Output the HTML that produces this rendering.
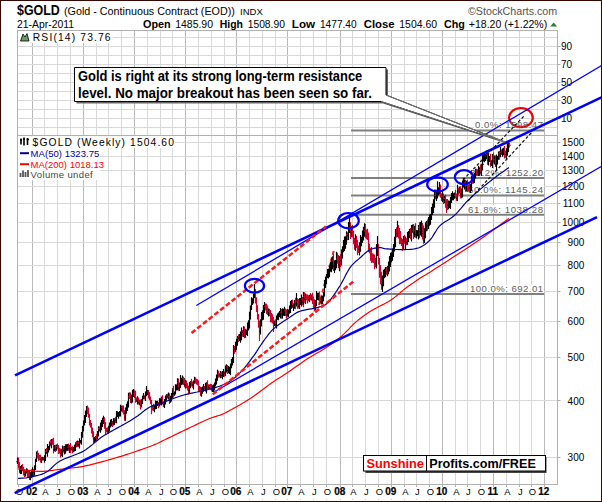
<!DOCTYPE html><html><head><meta charset="utf-8"><style>html,body{margin:0;padding:0;background:#fff;}svg{display:block;font-family:"Liberation Sans",sans-serif;}</style></head><body><svg width="602" height="502" viewBox="0 0 602 502"><rect x="0" y="0" width="602" height="502" fill="#fff"/><line x1="32.5" y1="30.5" x2="32.5" y2="484.5" stroke="#b9b9b9" stroke-width="1"/><line x1="44.5" y1="30.5" x2="44.5" y2="484.5" stroke="#d9d9d9" stroke-width="1"/><line x1="57.5" y1="30.5" x2="57.5" y2="484.5" stroke="#d9d9d9" stroke-width="1"/><line x1="70.5" y1="30.5" x2="70.5" y2="484.5" stroke="#d9d9d9" stroke-width="1"/><line x1="83.5" y1="30.5" x2="83.5" y2="484.5" stroke="#b9b9b9" stroke-width="1"/><line x1="96.5" y1="30.5" x2="96.5" y2="484.5" stroke="#d9d9d9" stroke-width="1"/><line x1="108.5" y1="30.5" x2="108.5" y2="484.5" stroke="#d9d9d9" stroke-width="1"/><line x1="121.5" y1="30.5" x2="121.5" y2="484.5" stroke="#d9d9d9" stroke-width="1"/><line x1="134.5" y1="30.5" x2="134.5" y2="484.5" stroke="#b9b9b9" stroke-width="1"/><line x1="147.5" y1="30.5" x2="147.5" y2="484.5" stroke="#d9d9d9" stroke-width="1"/><line x1="160.5" y1="30.5" x2="160.5" y2="484.5" stroke="#d9d9d9" stroke-width="1"/><line x1="172.5" y1="30.5" x2="172.5" y2="484.5" stroke="#d9d9d9" stroke-width="1"/><line x1="185.5" y1="30.5" x2="185.5" y2="484.5" stroke="#b9b9b9" stroke-width="1"/><line x1="198.5" y1="30.5" x2="198.5" y2="484.5" stroke="#d9d9d9" stroke-width="1"/><line x1="211.5" y1="30.5" x2="211.5" y2="484.5" stroke="#d9d9d9" stroke-width="1"/><line x1="224.5" y1="30.5" x2="224.5" y2="484.5" stroke="#d9d9d9" stroke-width="1"/><line x1="236.5" y1="30.5" x2="236.5" y2="484.5" stroke="#b9b9b9" stroke-width="1"/><line x1="249.5" y1="30.5" x2="249.5" y2="484.5" stroke="#d9d9d9" stroke-width="1"/><line x1="262.5" y1="30.5" x2="262.5" y2="484.5" stroke="#d9d9d9" stroke-width="1"/><line x1="275.5" y1="30.5" x2="275.5" y2="484.5" stroke="#d9d9d9" stroke-width="1"/><line x1="287.5" y1="30.5" x2="287.5" y2="484.5" stroke="#b9b9b9" stroke-width="1"/><line x1="300.5" y1="30.5" x2="300.5" y2="484.5" stroke="#d9d9d9" stroke-width="1"/><line x1="313.5" y1="30.5" x2="313.5" y2="484.5" stroke="#d9d9d9" stroke-width="1"/><line x1="326.5" y1="30.5" x2="326.5" y2="484.5" stroke="#d9d9d9" stroke-width="1"/><line x1="340.5" y1="30.5" x2="340.5" y2="484.5" stroke="#b9b9b9" stroke-width="1"/><line x1="352.5" y1="30.5" x2="352.5" y2="484.5" stroke="#d9d9d9" stroke-width="1"/><line x1="365.5" y1="30.5" x2="365.5" y2="484.5" stroke="#d9d9d9" stroke-width="1"/><line x1="378.5" y1="30.5" x2="378.5" y2="484.5" stroke="#d9d9d9" stroke-width="1"/><line x1="391.5" y1="30.5" x2="391.5" y2="484.5" stroke="#b9b9b9" stroke-width="1"/><line x1="404.5" y1="30.5" x2="404.5" y2="484.5" stroke="#d9d9d9" stroke-width="1"/><line x1="416.5" y1="30.5" x2="416.5" y2="484.5" stroke="#d9d9d9" stroke-width="1"/><line x1="429.5" y1="30.5" x2="429.5" y2="484.5" stroke="#d9d9d9" stroke-width="1"/><line x1="442.5" y1="30.5" x2="442.5" y2="484.5" stroke="#b9b9b9" stroke-width="1"/><line x1="455.5" y1="30.5" x2="455.5" y2="484.5" stroke="#d9d9d9" stroke-width="1"/><line x1="467.5" y1="30.5" x2="467.5" y2="484.5" stroke="#d9d9d9" stroke-width="1"/><line x1="480.5" y1="30.5" x2="480.5" y2="484.5" stroke="#d9d9d9" stroke-width="1"/><line x1="493.5" y1="30.5" x2="493.5" y2="484.5" stroke="#b9b9b9" stroke-width="1"/><line x1="506.5" y1="30.5" x2="506.5" y2="484.5" stroke="#d9d9d9" stroke-width="1"/><line x1="519.5" y1="30.5" x2="519.5" y2="484.5" stroke="#d9d9d9" stroke-width="1"/><line x1="531.5" y1="30.5" x2="531.5" y2="484.5" stroke="#d9d9d9" stroke-width="1"/><line x1="544.5" y1="30.5" x2="544.5" y2="484.5" stroke="#b9b9b9" stroke-width="1"/><line x1="17.5" y1="127.5" x2="557.5" y2="127.5" stroke="#d9d9d9" stroke-width="1"/><line x1="17.5" y1="118.5" x2="557.5" y2="118.5" stroke="#d9d9d9" stroke-width="1"/><line x1="17.5" y1="109.5" x2="557.5" y2="109.5" stroke="#d9d9d9" stroke-width="1"/><line x1="17.5" y1="100.5" x2="557.5" y2="100.5" stroke="#d9d9d9" stroke-width="1"/><line x1="17.5" y1="91.5" x2="557.5" y2="91.5" stroke="#d9d9d9" stroke-width="1"/><line x1="17.5" y1="82.5" x2="557.5" y2="82.5" stroke="#d9d9d9" stroke-width="1"/><line x1="17.5" y1="73.5" x2="557.5" y2="73.5" stroke="#d9d9d9" stroke-width="1"/><line x1="17.5" y1="64.5" x2="557.5" y2="64.5" stroke="#d9d9d9" stroke-width="1"/><line x1="17.5" y1="55.5" x2="557.5" y2="55.5" stroke="#d9d9d9" stroke-width="1"/><line x1="17.5" y1="46.5" x2="557.5" y2="46.5" stroke="#d9d9d9" stroke-width="1"/><line x1="17.5" y1="37.5" x2="557.5" y2="37.5" stroke="#d9d9d9" stroke-width="1"/><line x1="17.5" y1="457.5" x2="557.5" y2="457.5" stroke="#d9d9d9" stroke-width="1"/><line x1="17.5" y1="400.5" x2="557.5" y2="400.5" stroke="#d9d9d9" stroke-width="1"/><line x1="17.5" y1="357.5" x2="557.5" y2="357.5" stroke="#d9d9d9" stroke-width="1"/><line x1="17.5" y1="321.5" x2="557.5" y2="321.5" stroke="#d9d9d9" stroke-width="1"/><line x1="17.5" y1="291.5" x2="557.5" y2="291.5" stroke="#d9d9d9" stroke-width="1"/><line x1="17.5" y1="265.5" x2="557.5" y2="265.5" stroke="#d9d9d9" stroke-width="1"/><line x1="17.5" y1="242.5" x2="557.5" y2="242.5" stroke="#d9d9d9" stroke-width="1"/><line x1="17.5" y1="222.5" x2="557.5" y2="222.5" stroke="#d9d9d9" stroke-width="1"/><line x1="17.5" y1="203.5" x2="557.5" y2="203.5" stroke="#d9d9d9" stroke-width="1"/><line x1="17.5" y1="186.5" x2="557.5" y2="186.5" stroke="#d9d9d9" stroke-width="1"/><line x1="17.5" y1="170.5" x2="557.5" y2="170.5" stroke="#d9d9d9" stroke-width="1"/><line x1="17.5" y1="156.5" x2="557.5" y2="156.5" stroke="#d9d9d9" stroke-width="1"/><line x1="17.5" y1="142.5" x2="557.5" y2="142.5" stroke="#d9d9d9" stroke-width="1"/><rect x="17.5" y="30.5" width="540.0" height="454.0" fill="none" stroke="#b0b0b0" stroke-width="1"/><line x1="17.5" y1="135.5" x2="557.5" y2="135.5" stroke="#b0b0b0" stroke-width="1"/><line x1="557.5" y1="46.5" x2="560.5" y2="46.5" stroke="#b0b0b0"/><text x="572" y="50.0" font-size="10" fill="#000" text-anchor="end">90</text><line x1="557.5" y1="64.5" x2="560.5" y2="64.5" stroke="#b0b0b0"/><text x="572" y="68.0" font-size="10" fill="#000" text-anchor="end">70</text><line x1="557.5" y1="82.5" x2="560.5" y2="82.5" stroke="#b0b0b0"/><text x="572" y="86.0" font-size="10" fill="#000" text-anchor="end">50</text><line x1="557.5" y1="100.5" x2="560.5" y2="100.5" stroke="#b0b0b0"/><text x="572" y="104.0" font-size="10" fill="#000" text-anchor="end">30</text><line x1="557.5" y1="118.5" x2="560.5" y2="118.5" stroke="#b0b0b0"/><text x="572" y="122.0" font-size="10" fill="#000" text-anchor="end">10</text><line x1="557.5" y1="457.5" x2="560.5" y2="457.5" stroke="#b0b0b0"/><text x="584.3" y="460.6" font-size="10" fill="#000" text-anchor="end">300</text><line x1="557.5" y1="400.5" x2="560.5" y2="400.5" stroke="#b0b0b0"/><text x="584.3" y="404.5" font-size="10" fill="#000" text-anchor="end">400</text><line x1="557.5" y1="357.5" x2="560.5" y2="357.5" stroke="#b0b0b0"/><text x="584.3" y="360.9" font-size="10" fill="#000" text-anchor="end">500</text><line x1="557.5" y1="321.5" x2="560.5" y2="321.5" stroke="#b0b0b0"/><text x="584.3" y="325.3" font-size="10" fill="#000" text-anchor="end">600</text><line x1="557.5" y1="291.5" x2="560.5" y2="291.5" stroke="#b0b0b0"/><text x="584.3" y="295.2" font-size="10" fill="#000" text-anchor="end">700</text><line x1="557.5" y1="265.5" x2="560.5" y2="265.5" stroke="#b0b0b0"/><text x="584.3" y="269.1" font-size="10" fill="#000" text-anchor="end">800</text><line x1="557.5" y1="242.5" x2="560.5" y2="242.5" stroke="#b0b0b0"/><text x="584.3" y="246.1" font-size="10" fill="#000" text-anchor="end">900</text><line x1="557.5" y1="222.5" x2="560.5" y2="222.5" stroke="#b0b0b0"/><text x="584.3" y="225.5" font-size="10" fill="#000" text-anchor="end">1000</text><line x1="557.5" y1="203.5" x2="560.5" y2="203.5" stroke="#b0b0b0"/><text x="584.3" y="206.9" font-size="10" fill="#000" text-anchor="end">1100</text><line x1="557.5" y1="186.5" x2="560.5" y2="186.5" stroke="#b0b0b0"/><text x="584.3" y="189.9" font-size="10" fill="#000" text-anchor="end">1200</text><line x1="557.5" y1="170.5" x2="560.5" y2="170.5" stroke="#b0b0b0"/><text x="584.3" y="174.3" font-size="10" fill="#000" text-anchor="end">1300</text><line x1="557.5" y1="156.5" x2="560.5" y2="156.5" stroke="#b0b0b0"/><text x="584.3" y="159.8" font-size="10" fill="#000" text-anchor="end">1400</text><line x1="557.5" y1="142.5" x2="560.5" y2="142.5" stroke="#b0b0b0"/><text x="584.3" y="146.3" font-size="10" fill="#000" text-anchor="end">1500</text><line x1="18.5" y1="484.5" x2="18.5" y2="487.0" stroke="#b0b0b0"/><rect x="18" y="499" width="1" height="1" fill="#c8c8c8"/><text x="19.5" y="495.4" font-size="9.4" text-anchor="middle">O</text><line x1="32.5" y1="484.5" x2="32.5" y2="487.0" stroke="#b0b0b0"/><rect x="32" y="499" width="1" height="1" fill="#c8c8c8"/><text x="31.7" y="495.3" font-size="10" font-weight="bold" stroke="#000" stroke-width="0.2" text-anchor="middle">02</text><line x1="44.5" y1="484.5" x2="44.5" y2="487.0" stroke="#b0b0b0"/><rect x="44" y="499" width="1" height="1" fill="#c8c8c8"/><text x="45.3" y="495.4" font-size="9.4" text-anchor="middle">A</text><line x1="57.5" y1="484.5" x2="57.5" y2="487.0" stroke="#b0b0b0"/><rect x="57" y="499" width="1" height="1" fill="#c8c8c8"/><text x="58.3" y="495.4" font-size="9.4" text-anchor="middle">J</text><line x1="70.5" y1="484.5" x2="70.5" y2="487.0" stroke="#b0b0b0"/><rect x="70" y="499" width="1" height="1" fill="#c8c8c8"/><text x="71.3" y="495.4" font-size="9.4" text-anchor="middle">O</text><line x1="83.5" y1="484.5" x2="83.5" y2="487.0" stroke="#b0b0b0"/><rect x="83" y="499" width="1" height="1" fill="#c8c8c8"/><text x="82.7" y="495.3" font-size="10" font-weight="bold" stroke="#000" stroke-width="0.2" text-anchor="middle">03</text><line x1="96.5" y1="484.5" x2="96.5" y2="487.0" stroke="#b0b0b0"/><rect x="96" y="499" width="1" height="1" fill="#c8c8c8"/><text x="97.3" y="495.4" font-size="9.4" text-anchor="middle">A</text><line x1="108.5" y1="484.5" x2="108.5" y2="487.0" stroke="#b0b0b0"/><rect x="108" y="499" width="1" height="1" fill="#c8c8c8"/><text x="109.3" y="495.4" font-size="9.4" text-anchor="middle">J</text><line x1="121.5" y1="484.5" x2="121.5" y2="487.0" stroke="#b0b0b0"/><rect x="121" y="499" width="1" height="1" fill="#c8c8c8"/><text x="122.3" y="495.4" font-size="9.4" text-anchor="middle">O</text><line x1="134.5" y1="484.5" x2="134.5" y2="487.0" stroke="#b0b0b0"/><rect x="134" y="499" width="1" height="1" fill="#c8c8c8"/><text x="133.7" y="495.3" font-size="10" font-weight="bold" stroke="#000" stroke-width="0.2" text-anchor="middle">04</text><line x1="147.5" y1="484.5" x2="147.5" y2="487.0" stroke="#b0b0b0"/><rect x="147" y="499" width="1" height="1" fill="#c8c8c8"/><text x="148.3" y="495.4" font-size="9.4" text-anchor="middle">A</text><line x1="160.5" y1="484.5" x2="160.5" y2="487.0" stroke="#b0b0b0"/><rect x="160" y="499" width="1" height="1" fill="#c8c8c8"/><text x="161.3" y="495.4" font-size="9.4" text-anchor="middle">J</text><line x1="172.5" y1="484.5" x2="172.5" y2="487.0" stroke="#b0b0b0"/><rect x="172" y="499" width="1" height="1" fill="#c8c8c8"/><text x="173.3" y="495.4" font-size="9.4" text-anchor="middle">O</text><line x1="185.5" y1="484.5" x2="185.5" y2="487.0" stroke="#b0b0b0"/><rect x="185" y="499" width="1" height="1" fill="#c8c8c8"/><text x="184.7" y="495.3" font-size="10" font-weight="bold" stroke="#000" stroke-width="0.2" text-anchor="middle">05</text><line x1="198.5" y1="484.5" x2="198.5" y2="487.0" stroke="#b0b0b0"/><rect x="198" y="499" width="1" height="1" fill="#c8c8c8"/><text x="199.3" y="495.4" font-size="9.4" text-anchor="middle">A</text><line x1="211.5" y1="484.5" x2="211.5" y2="487.0" stroke="#b0b0b0"/><rect x="211" y="499" width="1" height="1" fill="#c8c8c8"/><text x="212.3" y="495.4" font-size="9.4" text-anchor="middle">J</text><line x1="224.5" y1="484.5" x2="224.5" y2="487.0" stroke="#b0b0b0"/><rect x="224" y="499" width="1" height="1" fill="#c8c8c8"/><text x="225.3" y="495.4" font-size="9.4" text-anchor="middle">O</text><line x1="236.5" y1="484.5" x2="236.5" y2="487.0" stroke="#b0b0b0"/><rect x="236" y="499" width="1" height="1" fill="#c8c8c8"/><text x="235.7" y="495.3" font-size="10" font-weight="bold" stroke="#000" stroke-width="0.2" text-anchor="middle">06</text><line x1="249.5" y1="484.5" x2="249.5" y2="487.0" stroke="#b0b0b0"/><rect x="249" y="499" width="1" height="1" fill="#c8c8c8"/><text x="250.3" y="495.4" font-size="9.4" text-anchor="middle">A</text><line x1="262.5" y1="484.5" x2="262.5" y2="487.0" stroke="#b0b0b0"/><rect x="262" y="499" width="1" height="1" fill="#c8c8c8"/><text x="263.3" y="495.4" font-size="9.4" text-anchor="middle">J</text><line x1="275.5" y1="484.5" x2="275.5" y2="487.0" stroke="#b0b0b0"/><rect x="275" y="499" width="1" height="1" fill="#c8c8c8"/><text x="276.3" y="495.4" font-size="9.4" text-anchor="middle">O</text><line x1="287.5" y1="484.5" x2="287.5" y2="487.0" stroke="#b0b0b0"/><rect x="287" y="499" width="1" height="1" fill="#c8c8c8"/><text x="286.7" y="495.3" font-size="10" font-weight="bold" stroke="#000" stroke-width="0.2" text-anchor="middle">07</text><line x1="300.5" y1="484.5" x2="300.5" y2="487.0" stroke="#b0b0b0"/><rect x="300" y="499" width="1" height="1" fill="#c8c8c8"/><text x="301.3" y="495.4" font-size="9.4" text-anchor="middle">A</text><line x1="313.5" y1="484.5" x2="313.5" y2="487.0" stroke="#b0b0b0"/><rect x="313" y="499" width="1" height="1" fill="#c8c8c8"/><text x="314.3" y="495.4" font-size="9.4" text-anchor="middle">J</text><line x1="326.5" y1="484.5" x2="326.5" y2="487.0" stroke="#b0b0b0"/><rect x="326" y="499" width="1" height="1" fill="#c8c8c8"/><text x="327.3" y="495.4" font-size="9.4" text-anchor="middle">O</text><line x1="340.5" y1="484.5" x2="340.5" y2="487.0" stroke="#b0b0b0"/><rect x="340" y="499" width="1" height="1" fill="#c8c8c8"/><text x="339.7" y="495.3" font-size="10" font-weight="bold" stroke="#000" stroke-width="0.2" text-anchor="middle">08</text><line x1="352.5" y1="484.5" x2="352.5" y2="487.0" stroke="#b0b0b0"/><rect x="352" y="499" width="1" height="1" fill="#c8c8c8"/><text x="353.3" y="495.4" font-size="9.4" text-anchor="middle">A</text><line x1="365.5" y1="484.5" x2="365.5" y2="487.0" stroke="#b0b0b0"/><rect x="365" y="499" width="1" height="1" fill="#c8c8c8"/><text x="366.3" y="495.4" font-size="9.4" text-anchor="middle">J</text><line x1="378.5" y1="484.5" x2="378.5" y2="487.0" stroke="#b0b0b0"/><rect x="378" y="499" width="1" height="1" fill="#c8c8c8"/><text x="379.3" y="495.4" font-size="9.4" text-anchor="middle">O</text><line x1="391.5" y1="484.5" x2="391.5" y2="487.0" stroke="#b0b0b0"/><rect x="391" y="499" width="1" height="1" fill="#c8c8c8"/><text x="390.7" y="495.3" font-size="10" font-weight="bold" stroke="#000" stroke-width="0.2" text-anchor="middle">09</text><line x1="404.5" y1="484.5" x2="404.5" y2="487.0" stroke="#b0b0b0"/><rect x="404" y="499" width="1" height="1" fill="#c8c8c8"/><text x="405.3" y="495.4" font-size="9.4" text-anchor="middle">A</text><line x1="416.5" y1="484.5" x2="416.5" y2="487.0" stroke="#b0b0b0"/><rect x="416" y="499" width="1" height="1" fill="#c8c8c8"/><text x="417.3" y="495.4" font-size="9.4" text-anchor="middle">J</text><line x1="429.5" y1="484.5" x2="429.5" y2="487.0" stroke="#b0b0b0"/><rect x="429" y="499" width="1" height="1" fill="#c8c8c8"/><text x="430.3" y="495.4" font-size="9.4" text-anchor="middle">O</text><line x1="442.5" y1="484.5" x2="442.5" y2="487.0" stroke="#b0b0b0"/><rect x="442" y="499" width="1" height="1" fill="#c8c8c8"/><text x="441.7" y="495.3" font-size="10" font-weight="bold" stroke="#000" stroke-width="0.2" text-anchor="middle">10</text><line x1="455.5" y1="484.5" x2="455.5" y2="487.0" stroke="#b0b0b0"/><rect x="455" y="499" width="1" height="1" fill="#c8c8c8"/><text x="456.3" y="495.4" font-size="9.4" text-anchor="middle">A</text><line x1="467.5" y1="484.5" x2="467.5" y2="487.0" stroke="#b0b0b0"/><rect x="467" y="499" width="1" height="1" fill="#c8c8c8"/><text x="468.3" y="495.4" font-size="9.4" text-anchor="middle">J</text><line x1="480.5" y1="484.5" x2="480.5" y2="487.0" stroke="#b0b0b0"/><rect x="480" y="499" width="1" height="1" fill="#c8c8c8"/><text x="481.3" y="495.4" font-size="9.4" text-anchor="middle">O</text><line x1="493.5" y1="484.5" x2="493.5" y2="487.0" stroke="#b0b0b0"/><rect x="493" y="499" width="1" height="1" fill="#c8c8c8"/><text x="492.7" y="495.3" font-size="10" font-weight="bold" stroke="#000" stroke-width="0.2" text-anchor="middle">11</text><line x1="506.5" y1="484.5" x2="506.5" y2="487.0" stroke="#b0b0b0"/><rect x="506" y="499" width="1" height="1" fill="#c8c8c8"/><text x="507.3" y="495.4" font-size="9.4" text-anchor="middle">A</text><line x1="519.5" y1="484.5" x2="519.5" y2="487.0" stroke="#b0b0b0"/><rect x="519" y="499" width="1" height="1" fill="#c8c8c8"/><text x="520.3" y="495.4" font-size="9.4" text-anchor="middle">J</text><line x1="531.5" y1="484.5" x2="531.5" y2="487.0" stroke="#b0b0b0"/><rect x="531" y="499" width="1" height="1" fill="#c8c8c8"/><text x="532.3" y="495.4" font-size="9.4" text-anchor="middle">O</text><line x1="544.5" y1="484.5" x2="544.5" y2="487.0" stroke="#b0b0b0"/><rect x="544" y="499" width="1" height="1" fill="#c8c8c8"/><text x="543.7" y="495.3" font-size="10" font-weight="bold" stroke="#000" stroke-width="0.2" text-anchor="middle">12</text><line x1="351" y1="130.4" x2="544" y2="130.4" stroke="#808080" stroke-width="2"/><line x1="351" y1="178.1" x2="544" y2="178.1" stroke="#808080" stroke-width="2"/><line x1="351" y1="195.5" x2="544" y2="195.5" stroke="#808080" stroke-width="2"/><line x1="351" y1="214.7" x2="544" y2="214.7" stroke="#808080" stroke-width="2"/><line x1="351" y1="293.9" x2="544" y2="293.9" stroke="#808080" stroke-width="2"/><rect x="474" y="120.9" width="34" height="8" fill="#fff"/><rect x="469" y="168.6" width="75" height="8" fill="#fff"/><rect x="467" y="186.0" width="77" height="8" fill="#fff"/><rect x="467" y="205.2" width="77" height="8" fill="#fff"/><rect x="469" y="284.4" width="75" height="8" fill="#fff"/><ellipse cx="520.9" cy="117.6" rx="11.9" ry="9.6" fill="none" stroke="#ee0000" stroke-width="2.1"/><text x="475" y="128.2" font-size="9.6" fill="#5e5e5e" textLength="68" lengthAdjust="spacing">0.0%: 1598.47</text><text x="470" y="175.9" font-size="9.6" fill="#5e5e5e" textLength="73" lengthAdjust="spacing">38.2%: 1252.20</text><text x="468" y="193.3" font-size="9.6" fill="#5e5e5e" textLength="75" lengthAdjust="spacing">50.0%: 1145.24</text><text x="468" y="212.5" font-size="9.6" fill="#5e5e5e" textLength="75" lengthAdjust="spacing">61.8%: 1038.28</text><text x="470" y="291.7" font-size="9.6" fill="#5e5e5e" textLength="73" lengthAdjust="spacing">100.0%: 692.01</text><line x1="319" y1="305" x2="334" y2="250" stroke="#ff1a1a" stroke-width="2" stroke-dasharray="4,2.5"/><path d="M17.5 457.4V464.1M16.3 461.7h1.2M17.5 460.7h1.2" stroke="#000" stroke-width="1.15"/><path d="M18.5 457.4V468.3M17.3 460.7h1.2M18.5 465.2h1.2" stroke="#d4002a" stroke-width="1.15"/><path d="M19.5 462.3V473.2M18.3 465.2h1.2M19.5 470.7h1.2" stroke="#d4002a" stroke-width="1.15"/><path d="M20.5 465.9V474.0M19.3 470.7h1.2M20.5 470.3h1.2" stroke="#000" stroke-width="1.15"/><path d="M21.5 464.9V473.9M20.3 470.3h1.2M21.5 468.4h1.2" stroke="#000" stroke-width="1.15"/><path d="M22.5 464.1V471.2M21.3 468.4h1.2M22.5 469.9h1.2" stroke="#d4002a" stroke-width="1.15"/><path d="M23.5 466.7V475.5M22.3 469.9h1.2M23.5 471.9h1.2" stroke="#d4002a" stroke-width="1.15"/><path d="M24.5 469.8V477.0M23.3 471.9h1.2M24.5 474.5h1.2" stroke="#d4002a" stroke-width="1.15"/><path d="M25.5 470.5V476.4M24.3 474.5h1.2M25.5 472.0h1.2" stroke="#000" stroke-width="1.15"/><path d="M26.5 468.3V473.6M25.3 472.0h1.2M26.5 470.7h1.2" stroke="#000" stroke-width="1.15"/><path d="M27.5 468.7V478.1M26.3 470.7h1.2M27.5 474.0h1.2" stroke="#d4002a" stroke-width="1.15"/><path d="M28.5 471.0V477.0M27.3 474.0h1.2M28.5 475.0h1.2" stroke="#d4002a" stroke-width="1.15"/><path d="M29.5 470.7V480.1M28.3 475.0h1.2M29.5 477.0h1.2" stroke="#d4002a" stroke-width="1.15"/><path d="M30.5 471.9V480.3M29.3 477.0h1.2M30.5 476.2h1.2" stroke="#000" stroke-width="1.15"/><path d="M31.5 469.5V477.8M30.3 476.2h1.2M31.5 473.3h1.2" stroke="#000" stroke-width="1.15"/><path d="M32.5 467.2V476.9M31.3 473.3h1.2M32.5 470.4h1.2" stroke="#000" stroke-width="1.15"/><path d="M33.5 468.9V477.1M32.3 470.4h1.2M33.5 472.9h1.2" stroke="#d4002a" stroke-width="1.15"/><path d="M34.5 465.3V475.7M33.3 472.9h1.2M34.5 467.1h1.2" stroke="#000" stroke-width="1.15"/><path d="M35.5 458.8V469.9M34.3 467.1h1.2M35.5 460.6h1.2" stroke="#000" stroke-width="1.15"/><path d="M36.5 451.5V462.1M35.3 460.6h1.2M36.5 454.7h1.2" stroke="#000" stroke-width="1.15"/><path d="M37.5 450.4V458.4M36.3 454.7h1.2M37.5 455.8h1.2" stroke="#d4002a" stroke-width="1.15"/><path d="M38.5 452.8V460.7M37.3 455.8h1.2M38.5 457.5h1.2" stroke="#d4002a" stroke-width="1.15"/><path d="M39.5 455.1V460.3M38.3 457.5h1.2M39.5 458.1h1.2" stroke="#d4002a" stroke-width="1.15"/><path d="M40.5 454.8V462.4M39.3 458.1h1.2M40.5 459.4h1.2" stroke="#d4002a" stroke-width="1.15"/><path d="M41.5 456.9V462.9M40.3 459.4h1.2M41.5 459.0h1.2" stroke="#000" stroke-width="1.15"/><path d="M42.5 456.8V460.4M41.3 459.0h1.2M42.5 459.0h1.2" stroke="#000" stroke-width="1.15"/><path d="M43.5 456.9V460.6M42.3 459.0h1.2M43.5 459.1h1.2" stroke="#d4002a" stroke-width="1.15"/><path d="M44.5 455.2V462.7M43.3 459.1h1.2M44.5 457.0h1.2" stroke="#000" stroke-width="1.15"/><path d="M45.5 449.1V461.1M44.3 457.0h1.2M45.5 451.6h1.2" stroke="#000" stroke-width="1.15"/><path d="M46.5 448.0V454.0M45.3 451.6h1.2M46.5 452.5h1.2" stroke="#d4002a" stroke-width="1.15"/><path d="M47.5 444.0V456.7M46.3 452.5h1.2M47.5 448.3h1.2" stroke="#000" stroke-width="1.15"/><path d="M48.5 446.0V452.4M47.3 448.3h1.2M48.5 447.6h1.2" stroke="#000" stroke-width="1.15"/><path d="M49.5 441.4V450.3M48.3 447.6h1.2M49.5 444.1h1.2" stroke="#000" stroke-width="1.15"/><path d="M50.5 439.8V446.2M49.3 444.1h1.2M50.5 444.1h1.2" stroke="#d4002a" stroke-width="1.15"/><path d="M51.5 439.1V448.3M50.3 444.1h1.2M51.5 442.0h1.2" stroke="#000" stroke-width="1.15"/><path d="M52.5 438.8V444.8M51.3 442.0h1.2M52.5 442.0h1.2" stroke="#d4002a" stroke-width="1.15"/><path d="M53.5 437.7V453.4M52.3 442.0h1.2M53.5 449.6h1.2" stroke="#d4002a" stroke-width="1.15"/><path d="M54.5 444.9V451.2M53.3 449.6h1.2M54.5 448.0h1.2" stroke="#000" stroke-width="1.15"/><path d="M55.5 444.8V452.0M54.3 448.0h1.2M55.5 449.3h1.2" stroke="#d4002a" stroke-width="1.15"/><path d="M56.5 444.6V450.8M55.3 449.3h1.2M56.5 446.5h1.2" stroke="#000" stroke-width="1.15"/><path d="M57.5 443.6V449.3M56.3 446.5h1.2M57.5 447.6h1.2" stroke="#d4002a" stroke-width="1.15"/><path d="M58.5 445.0V454.0M57.3 447.6h1.2M58.5 450.6h1.2" stroke="#d4002a" stroke-width="1.15"/><path d="M59.5 447.9V453.6M58.3 450.6h1.2M59.5 451.5h1.2" stroke="#d4002a" stroke-width="1.15"/><path d="M60.5 448.4V457.6M59.3 451.5h1.2M60.5 453.4h1.2" stroke="#d4002a" stroke-width="1.15"/><path d="M61.5 449.2V456.3M60.3 453.4h1.2M61.5 452.9h1.2" stroke="#000" stroke-width="1.15"/><path d="M62.5 445.4V457.1M61.3 452.9h1.2M62.5 449.7h1.2" stroke="#000" stroke-width="1.15"/><path d="M63.5 446.2V452.4M62.3 449.7h1.2M63.5 450.4h1.2" stroke="#d4002a" stroke-width="1.15"/><path d="M64.5 446.1V454.5M63.3 450.4h1.2M64.5 447.8h1.2" stroke="#000" stroke-width="1.15"/><path d="M65.5 444.1V454.0M64.3 447.8h1.2M65.5 450.8h1.2" stroke="#d4002a" stroke-width="1.15"/><path d="M65.5 445.2V452.9M64.3 450.8h1.2M65.5 447.6h1.2" stroke="#000" stroke-width="1.15"/><path d="M66.5 444.2V450.7M65.3 447.6h1.2M66.5 447.6h1.2" stroke="#000" stroke-width="1.15"/><path d="M67.5 444.0V450.8M66.3 447.6h1.2M67.5 447.2h1.2" stroke="#000" stroke-width="1.15"/><path d="M68.5 443.5V450.7M67.3 447.2h1.2M68.5 448.8h1.2" stroke="#d4002a" stroke-width="1.15"/><path d="M69.5 444.9V453.1M68.3 448.8h1.2M69.5 447.0h1.2" stroke="#000" stroke-width="1.15"/><path d="M70.5 442.9V453.1M69.3 447.0h1.2M70.5 449.1h1.2" stroke="#d4002a" stroke-width="1.15"/><path d="M71.5 446.9V450.6M70.3 449.1h1.2M71.5 448.3h1.2" stroke="#000" stroke-width="1.15"/><path d="M72.5 446.2V453.2M71.3 448.3h1.2M72.5 450.6h1.2" stroke="#d4002a" stroke-width="1.15"/><path d="M73.5 446.9V452.2M72.3 450.6h1.2M73.5 450.1h1.2" stroke="#000" stroke-width="1.15"/><path d="M74.5 444.7V451.6M73.3 450.1h1.2M74.5 447.6h1.2" stroke="#000" stroke-width="1.15"/><path d="M75.5 442.3V451.0M74.3 447.6h1.2M75.5 443.9h1.2" stroke="#000" stroke-width="1.15"/><path d="M76.5 440.9V447.2M75.3 443.9h1.2M76.5 444.0h1.2" stroke="#d4002a" stroke-width="1.15"/><path d="M77.5 440.4V446.8M76.3 444.0h1.2M77.5 442.8h1.2" stroke="#000" stroke-width="1.15"/><path d="M78.5 440.9V446.9M77.3 442.8h1.2M78.5 444.6h1.2" stroke="#d4002a" stroke-width="1.15"/><path d="M79.5 438.2V448.4M78.3 444.6h1.2M79.5 441.8h1.2" stroke="#000" stroke-width="1.15"/><path d="M80.5 440.0V443.4M79.3 441.8h1.2M80.5 441.5h1.2" stroke="#000" stroke-width="1.15"/><path d="M81.5 431.9V444.8M80.3 441.5h1.2M81.5 435.7h1.2" stroke="#000" stroke-width="1.15"/><path d="M82.5 425.7V437.7M81.3 435.7h1.2M82.5 429.4h1.2" stroke="#000" stroke-width="1.15"/><path d="M83.5 420.5V431.5M82.3 429.4h1.2M83.5 423.1h1.2" stroke="#000" stroke-width="1.15"/><path d="M84.5 415.0V425.5M83.3 423.1h1.2M84.5 418.8h1.2" stroke="#000" stroke-width="1.15"/><path d="M85.5 410.6V423.1M84.3 418.8h1.2M85.5 413.9h1.2" stroke="#000" stroke-width="1.15"/><path d="M86.5 406.0V416.9M85.3 413.9h1.2M86.5 409.0h1.2" stroke="#000" stroke-width="1.15"/><path d="M87.5 405.4V414.3M86.3 409.0h1.2M87.5 410.2h1.2" stroke="#d4002a" stroke-width="1.15"/><path d="M88.5 407.6V417.8M87.3 410.2h1.2M88.5 415.4h1.2" stroke="#d4002a" stroke-width="1.15"/><path d="M89.5 413.8V425.4M88.3 415.4h1.2M89.5 421.4h1.2" stroke="#d4002a" stroke-width="1.15"/><path d="M90.5 419.9V427.5M89.3 421.4h1.2M90.5 425.9h1.2" stroke="#d4002a" stroke-width="1.15"/><path d="M91.5 422.9V433.6M90.3 425.9h1.2M91.5 430.8h1.2" stroke="#d4002a" stroke-width="1.15"/><path d="M92.5 427.4V437.2M91.3 430.8h1.2M92.5 435.0h1.2" stroke="#d4002a" stroke-width="1.15"/><path d="M93.5 431.3V443.5M92.3 435.0h1.2M93.5 439.1h1.2" stroke="#d4002a" stroke-width="1.15"/><path d="M94.5 437.1V442.4M93.3 439.1h1.2M94.5 439.1h1.2" stroke="#000" stroke-width="1.15"/><path d="M95.5 436.0V441.3M94.3 439.1h1.2M95.5 437.6h1.2" stroke="#000" stroke-width="1.15"/><path d="M96.5 434.1V441.2M95.3 437.6h1.2M96.5 437.7h1.2" stroke="#d4002a" stroke-width="1.15"/><path d="M97.5 430.9V439.5M96.3 437.7h1.2M97.5 433.0h1.2" stroke="#000" stroke-width="1.15"/><path d="M98.5 426.2V436.6M97.3 433.0h1.2M98.5 428.6h1.2" stroke="#000" stroke-width="1.15"/><path d="M99.5 426.2V431.4M98.3 428.6h1.2M99.5 429.8h1.2" stroke="#d4002a" stroke-width="1.15"/><path d="M100.5 422.6V432.8M99.3 429.8h1.2M100.5 426.1h1.2" stroke="#000" stroke-width="1.15"/><path d="M101.5 420.1V430.3M100.3 426.1h1.2M101.5 424.2h1.2" stroke="#000" stroke-width="1.15"/><path d="M102.5 417.8V426.9M101.3 424.2h1.2M102.5 421.9h1.2" stroke="#000" stroke-width="1.15"/><path d="M103.5 415.7V424.1M102.3 421.9h1.2M103.5 419.5h1.2" stroke="#000" stroke-width="1.15"/><path d="M104.5 417.2V428.8M103.3 419.5h1.2M104.5 426.3h1.2" stroke="#d4002a" stroke-width="1.15"/><path d="M105.5 422.1V433.9M104.3 426.3h1.2M105.5 429.9h1.2" stroke="#d4002a" stroke-width="1.15"/><path d="M106.5 427.8V432.3M105.3 429.9h1.2M106.5 429.9h1.2" stroke="#d4002a" stroke-width="1.15"/><path d="M107.5 427.4V433.3M106.3 429.9h1.2M107.5 430.9h1.2" stroke="#d4002a" stroke-width="1.15"/><path d="M108.5 425.8V433.4M107.3 430.9h1.2M108.5 428.3h1.2" stroke="#000" stroke-width="1.15"/><path d="M109.5 422.6V431.4M108.3 428.3h1.2M109.5 424.5h1.2" stroke="#000" stroke-width="1.15"/><path d="M110.5 419.4V427.4M109.3 424.5h1.2M110.5 423.2h1.2" stroke="#000" stroke-width="1.15"/><path d="M111.5 418.9V426.2M110.3 423.2h1.2M111.5 422.8h1.2" stroke="#000" stroke-width="1.15"/><path d="M112.5 420.9V427.0M111.3 422.8h1.2M112.5 423.3h1.2" stroke="#d4002a" stroke-width="1.15"/><path d="M113.5 418.2V425.5M112.3 423.3h1.2M113.5 422.2h1.2" stroke="#000" stroke-width="1.15"/><path d="M114.5 418.2V425.1M113.3 422.2h1.2M114.5 419.6h1.2" stroke="#000" stroke-width="1.15"/><path d="M115.5 416.7V422.9M114.3 419.6h1.2M115.5 419.9h1.2" stroke="#d4002a" stroke-width="1.15"/><path d="M116.5 411.1V423.2M115.3 419.9h1.2M116.5 415.4h1.2" stroke="#000" stroke-width="1.15"/><path d="M117.5 411.3V416.9M116.3 415.4h1.2M117.5 415.1h1.2" stroke="#000" stroke-width="1.15"/><path d="M118.5 411.9V418.8M117.3 415.1h1.2M118.5 414.9h1.2" stroke="#000" stroke-width="1.15"/><path d="M119.5 411.0V416.5M118.3 414.9h1.2M119.5 412.6h1.2" stroke="#000" stroke-width="1.15"/><path d="M120.5 404.7V416.6M119.3 412.6h1.2M120.5 408.3h1.2" stroke="#000" stroke-width="1.15"/><path d="M121.5 405.7V411.5M120.3 408.3h1.2M121.5 407.3h1.2" stroke="#000" stroke-width="1.15"/><path d="M122.5 405.6V412.4M121.3 407.3h1.2M122.5 408.8h1.2" stroke="#d4002a" stroke-width="1.15"/><path d="M123.5 405.5V414.4M122.3 408.8h1.2M123.5 412.3h1.2" stroke="#d4002a" stroke-width="1.15"/><path d="M124.5 410.3V420.7M123.3 412.3h1.2M124.5 417.0h1.2" stroke="#d4002a" stroke-width="1.15"/><path d="M125.5 410.2V420.7M124.3 417.0h1.2M125.5 413.2h1.2" stroke="#000" stroke-width="1.15"/><path d="M125.5 407.5V415.5M124.3 413.2h1.2M125.5 410.0h1.2" stroke="#000" stroke-width="1.15"/><path d="M126.5 403.8V413.4M125.3 410.0h1.2M126.5 408.1h1.2" stroke="#000" stroke-width="1.15"/><path d="M127.5 401.2V411.0M126.3 408.1h1.2M127.5 404.0h1.2" stroke="#000" stroke-width="1.15"/><path d="M128.5 392.8V407.5M127.3 404.0h1.2M128.5 396.3h1.2" stroke="#000" stroke-width="1.15"/><path d="M129.5 392.2V399.0M128.3 396.3h1.2M129.5 396.5h1.2" stroke="#d4002a" stroke-width="1.15"/><path d="M130.5 392.6V403.0M129.3 396.5h1.2M130.5 399.6h1.2" stroke="#d4002a" stroke-width="1.15"/><path d="M131.5 394.5V403.4M130.3 399.6h1.2M131.5 398.4h1.2" stroke="#000" stroke-width="1.15"/><path d="M132.5 389.8V402.5M131.3 398.4h1.2M132.5 393.7h1.2" stroke="#000" stroke-width="1.15"/><path d="M133.5 388.9V396.9M132.3 393.7h1.2M133.5 393.1h1.2" stroke="#000" stroke-width="1.15"/><path d="M134.5 390.2V398.1M133.3 393.1h1.2M134.5 394.6h1.2" stroke="#d4002a" stroke-width="1.15"/><path d="M135.5 390.8V402.8M134.3 394.6h1.2M135.5 400.2h1.2" stroke="#d4002a" stroke-width="1.15"/><path d="M136.5 397.6V402.0M135.3 400.2h1.2M136.5 400.2h1.2" stroke="#d4002a" stroke-width="1.15"/><path d="M137.5 396.3V404.6M136.3 400.2h1.2M137.5 399.8h1.2" stroke="#000" stroke-width="1.15"/><path d="M138.5 397.4V404.6M137.3 399.8h1.2M138.5 402.7h1.2" stroke="#d4002a" stroke-width="1.15"/><path d="M139.5 399.8V405.3M138.3 402.7h1.2M139.5 401.8h1.2" stroke="#000" stroke-width="1.15"/><path d="M140.5 399.6V409.6M139.3 401.8h1.2M140.5 405.3h1.2" stroke="#d4002a" stroke-width="1.15"/><path d="M141.5 399.3V407.6M140.3 405.3h1.2M141.5 400.8h1.2" stroke="#000" stroke-width="1.15"/><path d="M142.5 395.7V404.1M141.3 400.8h1.2M142.5 397.3h1.2" stroke="#000" stroke-width="1.15"/><path d="M143.5 393.1V399.2M142.3 397.3h1.2M143.5 396.8h1.2" stroke="#000" stroke-width="1.15"/><path d="M144.5 395.2V399.5M143.3 396.8h1.2M144.5 396.8h1.2" stroke="#d4002a" stroke-width="1.15"/><path d="M145.5 391.4V400.9M144.3 396.8h1.2M145.5 394.5h1.2" stroke="#000" stroke-width="1.15"/><path d="M146.5 386.0V396.2M145.3 394.5h1.2M146.5 393.0h1.2" stroke="#000" stroke-width="1.15"/><path d="M147.5 390.1V395.0M146.3 393.0h1.2M147.5 392.0h1.2" stroke="#000" stroke-width="1.15"/><path d="M148.5 390.0V398.5M147.3 392.0h1.2M148.5 395.0h1.2" stroke="#d4002a" stroke-width="1.15"/><path d="M149.5 391.9V400.3M148.3 395.0h1.2M149.5 398.3h1.2" stroke="#d4002a" stroke-width="1.15"/><path d="M150.5 396.5V404.0M149.3 398.3h1.2M150.5 401.8h1.2" stroke="#d4002a" stroke-width="1.15"/><path d="M151.5 400.0V414.3M150.3 401.8h1.2M151.5 407.3h1.2" stroke="#d4002a" stroke-width="1.15"/><path d="M152.5 405.0V410.6M151.3 407.3h1.2M152.5 407.6h1.2" stroke="#d4002a" stroke-width="1.15"/><path d="M153.5 403.8V411.0M152.3 407.6h1.2M153.5 408.3h1.2" stroke="#d4002a" stroke-width="1.15"/><path d="M154.5 404.7V412.3M153.3 408.3h1.2M154.5 406.8h1.2" stroke="#000" stroke-width="1.15"/><path d="M155.5 400.6V409.2M154.3 406.8h1.2M155.5 404.7h1.2" stroke="#000" stroke-width="1.15"/><path d="M156.5 400.9V409.0M155.3 404.7h1.2M156.5 403.9h1.2" stroke="#000" stroke-width="1.15"/><path d="M157.5 400.7V405.9M156.3 403.9h1.2M157.5 403.5h1.2" stroke="#000" stroke-width="1.15"/><path d="M158.5 402.0V408.2M157.3 403.5h1.2M158.5 404.0h1.2" stroke="#d4002a" stroke-width="1.15"/><path d="M159.5 398.2V406.4M158.3 404.0h1.2M159.5 402.0h1.2" stroke="#000" stroke-width="1.15"/><path d="M160.5 398.3V404.8M159.3 402.0h1.2M160.5 401.2h1.2" stroke="#000" stroke-width="1.15"/><path d="M161.5 396.5V405.6M160.3 401.2h1.2M161.5 398.7h1.2" stroke="#000" stroke-width="1.15"/><path d="M162.5 395.3V404.6M161.3 398.7h1.2M162.5 402.6h1.2" stroke="#d4002a" stroke-width="1.15"/><path d="M163.5 401.3V406.9M162.3 402.6h1.2M163.5 404.2h1.2" stroke="#d4002a" stroke-width="1.15"/><path d="M164.5 399.0V407.9M163.3 404.2h1.2M164.5 401.5h1.2" stroke="#000" stroke-width="1.15"/><path d="M165.5 395.6V404.6M164.3 401.5h1.2M165.5 399.1h1.2" stroke="#000" stroke-width="1.15"/><path d="M166.5 394.2V400.8M165.3 399.1h1.2M166.5 396.0h1.2" stroke="#000" stroke-width="1.15"/><path d="M167.5 393.7V398.6M166.3 396.0h1.2M167.5 396.5h1.2" stroke="#d4002a" stroke-width="1.15"/><path d="M168.5 392.5V399.4M167.3 396.5h1.2M168.5 396.5h1.2" stroke="#000" stroke-width="1.15"/><path d="M169.5 393.2V404.1M168.3 396.5h1.2M169.5 399.8h1.2" stroke="#d4002a" stroke-width="1.15"/><path d="M170.5 395.7V402.7M169.3 399.8h1.2M170.5 397.9h1.2" stroke="#000" stroke-width="1.15"/><path d="M171.5 392.9V401.5M170.3 397.9h1.2M171.5 394.7h1.2" stroke="#000" stroke-width="1.15"/><path d="M172.5 388.3V398.5M171.3 394.7h1.2M172.5 389.6h1.2" stroke="#000" stroke-width="1.15"/><path d="M173.5 385.7V397.4M172.3 389.6h1.2M173.5 393.6h1.2" stroke="#d4002a" stroke-width="1.15"/><path d="M174.5 391.5V395.7M173.3 393.6h1.2M174.5 393.0h1.2" stroke="#000" stroke-width="1.15"/><path d="M175.5 384.2V394.6M174.3 393.0h1.2M175.5 387.7h1.2" stroke="#000" stroke-width="1.15"/><path d="M176.5 384.4V390.5M175.3 387.7h1.2M176.5 387.1h1.2" stroke="#000" stroke-width="1.15"/><path d="M177.5 378.3V390.2M176.3 387.1h1.2M177.5 382.6h1.2" stroke="#000" stroke-width="1.15"/><path d="M178.5 378.6V390.7M177.3 382.6h1.2M178.5 388.4h1.2" stroke="#d4002a" stroke-width="1.15"/><path d="M179.5 382.6V391.0M178.3 388.4h1.2M179.5 386.3h1.2" stroke="#000" stroke-width="1.15"/><path d="M180.5 375.0V387.9M179.3 386.3h1.2M180.5 383.2h1.2" stroke="#000" stroke-width="1.15"/><path d="M181.5 377.8V385.2M180.3 383.2h1.2M181.5 381.6h1.2" stroke="#000" stroke-width="1.15"/><path d="M182.5 375.5V384.5M181.3 381.6h1.2M182.5 378.4h1.2" stroke="#000" stroke-width="1.15"/><path d="M183.5 376.7V384.9M182.3 378.4h1.2M183.5 381.1h1.2" stroke="#d4002a" stroke-width="1.15"/><path d="M184.5 378.3V383.3M183.3 381.1h1.2M184.5 380.6h1.2" stroke="#000" stroke-width="1.15"/><path d="M184.5 379.0V387.2M183.3 380.6h1.2M184.5 384.9h1.2" stroke="#d4002a" stroke-width="1.15"/><path d="M185.5 380.2V388.4M184.3 384.9h1.2M185.5 382.9h1.2" stroke="#000" stroke-width="1.15"/><path d="M186.5 380.5V388.2M185.3 382.9h1.2M186.5 384.8h1.2" stroke="#d4002a" stroke-width="1.15"/><path d="M187.5 383.2V390.6M186.3 384.8h1.2M187.5 388.1h1.2" stroke="#d4002a" stroke-width="1.15"/><path d="M188.5 385.4V394.5M187.3 388.1h1.2M188.5 390.2h1.2" stroke="#d4002a" stroke-width="1.15"/><path d="M189.5 381.9V393.5M188.3 390.2h1.2M189.5 385.8h1.2" stroke="#000" stroke-width="1.15"/><path d="M190.5 381.0V388.3M189.3 385.8h1.2M190.5 382.3h1.2" stroke="#000" stroke-width="1.15"/><path d="M191.5 378.8V386.5M190.3 382.3h1.2M191.5 384.4h1.2" stroke="#d4002a" stroke-width="1.15"/><path d="M192.5 381.4V387.8M191.3 384.4h1.2M192.5 385.1h1.2" stroke="#d4002a" stroke-width="1.15"/><path d="M193.5 380.4V389.5M192.3 385.1h1.2M193.5 381.7h1.2" stroke="#000" stroke-width="1.15"/><path d="M194.5 376.7V383.7M193.3 381.7h1.2M194.5 380.5h1.2" stroke="#000" stroke-width="1.15"/><path d="M195.5 377.3V383.5M194.3 380.5h1.2M195.5 381.3h1.2" stroke="#d4002a" stroke-width="1.15"/><path d="M196.5 378.8V384.4M195.3 381.3h1.2M196.5 381.4h1.2" stroke="#d4002a" stroke-width="1.15"/><path d="M197.5 379.2V385.3M196.3 381.4h1.2M197.5 383.0h1.2" stroke="#d4002a" stroke-width="1.15"/><path d="M198.5 380.5V391.3M197.3 383.0h1.2M198.5 388.0h1.2" stroke="#d4002a" stroke-width="1.15"/><path d="M199.5 385.9V392.2M198.3 388.0h1.2M199.5 390.3h1.2" stroke="#d4002a" stroke-width="1.15"/><path d="M200.5 386.7V396.0M199.3 390.3h1.2M200.5 393.7h1.2" stroke="#d4002a" stroke-width="1.15"/><path d="M201.5 387.2V396.7M200.3 393.7h1.2M201.5 391.4h1.2" stroke="#000" stroke-width="1.15"/><path d="M202.5 386.5V393.7M201.3 391.4h1.2M202.5 390.1h1.2" stroke="#000" stroke-width="1.15"/><path d="M203.5 383.9V391.7M202.3 390.1h1.2M203.5 387.8h1.2" stroke="#000" stroke-width="1.15"/><path d="M204.5 386.0V389.7M203.3 387.8h1.2M204.5 388.1h1.2" stroke="#d4002a" stroke-width="1.15"/><path d="M205.5 382.7V391.6M204.3 388.1h1.2M205.5 386.1h1.2" stroke="#000" stroke-width="1.15"/><path d="M206.5 382.2V393.5M205.3 386.1h1.2M206.5 384.1h1.2" stroke="#000" stroke-width="1.15"/><path d="M207.5 380.2V388.9M206.3 384.1h1.2M207.5 385.8h1.2" stroke="#d4002a" stroke-width="1.15"/><path d="M208.5 384.2V389.4M207.3 385.8h1.2M208.5 387.4h1.2" stroke="#d4002a" stroke-width="1.15"/><path d="M209.5 384.5V389.0M208.3 387.4h1.2M209.5 386.3h1.2" stroke="#000" stroke-width="1.15"/><path d="M210.5 383.8V389.5M209.3 386.3h1.2M210.5 388.0h1.2" stroke="#d4002a" stroke-width="1.15"/><path d="M211.5 383.9V391.3M210.3 388.0h1.2M211.5 388.7h1.2" stroke="#d4002a" stroke-width="1.15"/><path d="M212.5 385.3V392.0M211.3 388.7h1.2M212.5 388.2h1.2" stroke="#000" stroke-width="1.15"/><path d="M213.5 384.4V392.0M212.3 388.2h1.2M213.5 388.1h1.2" stroke="#000" stroke-width="1.15"/><path d="M214.5 382.6V390.4M213.3 388.1h1.2M214.5 385.1h1.2" stroke="#000" stroke-width="1.15"/><path d="M215.5 378.6V386.5M214.3 385.1h1.2M215.5 381.2h1.2" stroke="#000" stroke-width="1.15"/><path d="M216.5 374.4V384.6M215.3 381.2h1.2M216.5 377.0h1.2" stroke="#000" stroke-width="1.15"/><path d="M217.5 369.7V380.7M216.3 377.0h1.2M217.5 374.1h1.2" stroke="#000" stroke-width="1.15"/><path d="M218.5 370.7V377.8M217.3 374.1h1.2M218.5 374.6h1.2" stroke="#d4002a" stroke-width="1.15"/><path d="M219.5 373.2V377.3M218.3 374.6h1.2M219.5 374.9h1.2" stroke="#d4002a" stroke-width="1.15"/><path d="M220.5 371.1V378.2M219.3 374.9h1.2M220.5 373.4h1.2" stroke="#000" stroke-width="1.15"/><path d="M221.5 371.8V378.0M220.3 373.4h1.2M221.5 375.5h1.2" stroke="#d4002a" stroke-width="1.15"/><path d="M222.5 370.9V379.3M221.3 375.5h1.2M222.5 373.8h1.2" stroke="#000" stroke-width="1.15"/><path d="M223.5 369.1V377.0M222.3 373.8h1.2M223.5 373.0h1.2" stroke="#000" stroke-width="1.15"/><path d="M224.5 371.2V376.8M223.3 373.0h1.2M224.5 373.1h1.2" stroke="#d4002a" stroke-width="1.15"/><path d="M225.5 365.5V376.1M224.3 373.1h1.2M225.5 369.5h1.2" stroke="#000" stroke-width="1.15"/><path d="M226.5 364.2V372.4M225.3 369.5h1.2M226.5 366.6h1.2" stroke="#000" stroke-width="1.15"/><path d="M227.5 364.9V373.9M226.3 366.6h1.2M227.5 370.4h1.2" stroke="#d4002a" stroke-width="1.15"/><path d="M228.5 365.9V373.3M227.3 370.4h1.2M228.5 370.2h1.2" stroke="#000" stroke-width="1.15"/><path d="M229.5 366.7V374.1M228.3 370.2h1.2M229.5 370.2h1.2" stroke="#000" stroke-width="1.15"/><path d="M230.5 363.6V375.2M229.3 370.2h1.2M230.5 365.9h1.2" stroke="#000" stroke-width="1.15"/><path d="M231.5 359.1V368.2M230.3 365.9h1.2M231.5 363.0h1.2" stroke="#000" stroke-width="1.15"/><path d="M232.5 357.1V365.5M231.3 363.0h1.2M232.5 358.9h1.2" stroke="#000" stroke-width="1.15"/><path d="M233.5 345.1V363.0M232.3 358.9h1.2M233.5 348.8h1.2" stroke="#000" stroke-width="1.15"/><path d="M234.5 346.0V353.8M233.3 348.8h1.2M234.5 348.8h1.2" stroke="#d4002a" stroke-width="1.15"/><path d="M235.5 341.7V352.1M234.3 348.8h1.2M235.5 344.6h1.2" stroke="#000" stroke-width="1.15"/><path d="M236.5 338.8V349.7M235.3 344.6h1.2M236.5 340.8h1.2" stroke="#000" stroke-width="1.15"/><path d="M237.5 336.1V345.7M236.3 340.8h1.2M237.5 338.2h1.2" stroke="#000" stroke-width="1.15"/><path d="M238.5 334.6V342.0M237.3 338.2h1.2M238.5 338.3h1.2" stroke="#d4002a" stroke-width="1.15"/><path d="M239.5 333.9V340.9M238.3 338.3h1.2M239.5 337.5h1.2" stroke="#000" stroke-width="1.15"/><path d="M240.5 331.6V342.7M239.3 337.5h1.2M240.5 336.5h1.2" stroke="#000" stroke-width="1.15"/><path d="M241.5 327.5V340.2M240.3 336.5h1.2M241.5 332.0h1.2" stroke="#000" stroke-width="1.15"/><path d="M242.5 330.0V336.8M241.3 332.0h1.2M242.5 332.3h1.2" stroke="#d4002a" stroke-width="1.15"/><path d="M243.5 326.2V337.1M242.3 332.3h1.2M243.5 328.8h1.2" stroke="#000" stroke-width="1.15"/><path d="M244.5 326.4V335.9M243.3 328.8h1.2M244.5 332.2h1.2" stroke="#d4002a" stroke-width="1.15"/><path d="M244.5 327.6V338.2M243.3 332.2h1.2M244.5 336.0h1.2" stroke="#d4002a" stroke-width="1.15"/><path d="M245.5 329.2V337.8M244.3 336.0h1.2M245.5 332.8h1.2" stroke="#000" stroke-width="1.15"/><path d="M246.5 329.4V335.0M245.3 332.8h1.2M246.5 331.1h1.2" stroke="#000" stroke-width="1.15"/><path d="M247.5 322.5V336.1M246.3 331.1h1.2M247.5 327.7h1.2" stroke="#000" stroke-width="1.15"/><path d="M248.5 320.2V330.4M247.3 327.7h1.2M248.5 324.2h1.2" stroke="#000" stroke-width="1.15"/><path d="M249.5 311.7V328.4M248.3 324.2h1.2M249.5 315.7h1.2" stroke="#000" stroke-width="1.15"/><path d="M250.5 305.5V319.4M249.3 315.7h1.2M250.5 308.5h1.2" stroke="#000" stroke-width="1.15"/><path d="M251.5 297.2V310.1M250.3 308.5h1.2M251.5 301.7h1.2" stroke="#000" stroke-width="1.15"/><path d="M252.5 298.3V304.9M251.3 301.7h1.2M252.5 300.6h1.2" stroke="#000" stroke-width="1.15"/><path d="M253.5 293.7V303.6M252.3 300.6h1.2M253.5 295.8h1.2" stroke="#000" stroke-width="1.15"/><path d="M254.5 284.0V298.0M253.3 295.8h1.2M254.5 292.6h1.2" stroke="#000" stroke-width="1.15"/><path d="M255.5 289.1V303.5M254.3 292.6h1.2M255.5 301.0h1.2" stroke="#d4002a" stroke-width="1.15"/><path d="M256.5 297.3V312.0M255.3 301.0h1.2M256.5 309.3h1.2" stroke="#d4002a" stroke-width="1.15"/><path d="M257.5 305.3V319.6M256.3 309.3h1.2M257.5 317.9h1.2" stroke="#d4002a" stroke-width="1.15"/><path d="M258.5 313.9V327.8M257.3 317.9h1.2M258.5 325.7h1.2" stroke="#d4002a" stroke-width="1.15"/><path d="M259.5 320.6V341.0M258.3 325.7h1.2M259.5 331.4h1.2" stroke="#d4002a" stroke-width="1.15"/><path d="M260.5 319.2V334.5M259.3 331.4h1.2M260.5 322.5h1.2" stroke="#000" stroke-width="1.15"/><path d="M261.5 312.1V326.5M260.3 322.5h1.2M261.5 316.0h1.2" stroke="#000" stroke-width="1.15"/><path d="M262.5 310.2V320.3M261.3 316.0h1.2M262.5 314.5h1.2" stroke="#000" stroke-width="1.15"/><path d="M263.5 305.0V319.7M262.3 314.5h1.2M263.5 308.4h1.2" stroke="#000" stroke-width="1.15"/><path d="M264.5 301.9V313.1M263.3 308.4h1.2M264.5 306.6h1.2" stroke="#000" stroke-width="1.15"/><path d="M265.5 303.5V310.4M264.3 306.6h1.2M265.5 307.3h1.2" stroke="#d4002a" stroke-width="1.15"/><path d="M266.5 303.7V314.0M265.3 307.3h1.2M266.5 309.1h1.2" stroke="#d4002a" stroke-width="1.15"/><path d="M267.5 305.6V315.0M266.3 309.1h1.2M267.5 311.6h1.2" stroke="#d4002a" stroke-width="1.15"/><path d="M268.5 308.4V316.4M267.3 311.6h1.2M268.5 311.5h1.2" stroke="#000" stroke-width="1.15"/><path d="M269.5 308.8V315.9M268.3 311.5h1.2M269.5 314.2h1.2" stroke="#d4002a" stroke-width="1.15"/><path d="M270.5 309.9V322.2M269.3 314.2h1.2M270.5 317.3h1.2" stroke="#d4002a" stroke-width="1.15"/><path d="M271.5 313.1V322.4M270.3 317.3h1.2M271.5 318.6h1.2" stroke="#d4002a" stroke-width="1.15"/><path d="M272.5 314.3V323.4M271.3 318.6h1.2M272.5 320.7h1.2" stroke="#d4002a" stroke-width="1.15"/><path d="M273.5 317.0V332.0M272.3 320.7h1.2M273.5 322.8h1.2" stroke="#d4002a" stroke-width="1.15"/><path d="M274.5 320.6V326.0M273.3 322.8h1.2M274.5 322.7h1.2" stroke="#000" stroke-width="1.15"/><path d="M275.5 319.2V327.5M274.3 322.7h1.2M275.5 324.5h1.2" stroke="#d4002a" stroke-width="1.15"/><path d="M276.5 315.6V328.6M275.3 324.5h1.2M276.5 317.4h1.2" stroke="#000" stroke-width="1.15"/><path d="M277.5 313.6V319.8M276.3 317.4h1.2M277.5 317.1h1.2" stroke="#000" stroke-width="1.15"/><path d="M278.5 312.6V320.2M277.3 317.1h1.2M278.5 315.3h1.2" stroke="#000" stroke-width="1.15"/><path d="M279.5 310.9V317.1M278.3 315.3h1.2M279.5 313.4h1.2" stroke="#000" stroke-width="1.15"/><path d="M280.5 308.0V318.5M279.3 313.4h1.2M280.5 312.9h1.2" stroke="#000" stroke-width="1.15"/><path d="M281.5 308.9V318.7M280.3 312.9h1.2M281.5 314.0h1.2" stroke="#d4002a" stroke-width="1.15"/><path d="M282.5 308.3V318.5M281.3 314.0h1.2M282.5 311.4h1.2" stroke="#000" stroke-width="1.15"/><path d="M283.5 308.7V315.7M282.3 311.4h1.2M283.5 311.0h1.2" stroke="#000" stroke-width="1.15"/><path d="M284.5 306.8V315.9M283.3 311.0h1.2M284.5 310.5h1.2" stroke="#000" stroke-width="1.15"/><path d="M285.5 308.5V316.1M284.3 310.5h1.2M285.5 311.6h1.2" stroke="#d4002a" stroke-width="1.15"/><path d="M286.5 309.6V318.5M285.3 311.6h1.2M286.5 314.9h1.2" stroke="#d4002a" stroke-width="1.15"/><path d="M287.5 309.3V316.5M286.3 314.9h1.2M287.5 314.3h1.2" stroke="#000" stroke-width="1.15"/><path d="M288.5 309.5V317.0M287.3 314.3h1.2M288.5 311.9h1.2" stroke="#000" stroke-width="1.15"/><path d="M289.5 305.6V313.7M288.3 311.9h1.2M289.5 308.4h1.2" stroke="#000" stroke-width="1.15"/><path d="M290.5 301.1V312.9M289.3 308.4h1.2M290.5 305.9h1.2" stroke="#000" stroke-width="1.15"/><path d="M291.5 300.1V308.8M290.3 305.9h1.2M291.5 303.1h1.2" stroke="#000" stroke-width="1.15"/><path d="M292.5 299.4V307.9M291.3 303.1h1.2M292.5 306.1h1.2" stroke="#d4002a" stroke-width="1.15"/><path d="M293.5 303.6V311.0M292.3 306.1h1.2M293.5 305.3h1.2" stroke="#000" stroke-width="1.15"/><path d="M294.5 300.0V308.7M293.3 305.3h1.2M294.5 302.7h1.2" stroke="#000" stroke-width="1.15"/><path d="M295.5 297.7V309.3M294.3 302.7h1.2M295.5 304.1h1.2" stroke="#d4002a" stroke-width="1.15"/><path d="M296.5 293.0V306.4M295.3 304.1h1.2M296.5 300.8h1.2" stroke="#000" stroke-width="1.15"/><path d="M297.5 298.2V308.7M296.3 300.8h1.2M297.5 303.8h1.2" stroke="#d4002a" stroke-width="1.15"/><path d="M298.5 298.9V308.4M297.3 303.8h1.2M298.5 306.1h1.2" stroke="#d4002a" stroke-width="1.15"/><path d="M299.5 298.2V309.0M298.3 306.1h1.2M299.5 302.8h1.2" stroke="#000" stroke-width="1.15"/><path d="M300.5 298.1V305.0M299.3 302.8h1.2M300.5 301.4h1.2" stroke="#000" stroke-width="1.15"/><path d="M301.5 294.6V306.6M300.3 301.4h1.2M301.5 299.4h1.2" stroke="#000" stroke-width="1.15"/><path d="M302.5 297.1V305.2M301.3 299.4h1.2M302.5 301.4h1.2" stroke="#d4002a" stroke-width="1.15"/><path d="M303.5 299.1V307.2M302.3 301.4h1.2M303.5 302.4h1.2" stroke="#d4002a" stroke-width="1.15"/><path d="M303.5 292.0V304.4M302.3 302.4h1.2M303.5 296.5h1.2" stroke="#000" stroke-width="1.15"/><path d="M304.5 292.3V301.8M303.3 296.5h1.2M304.5 299.1h1.2" stroke="#d4002a" stroke-width="1.15"/><path d="M305.5 293.6V303.9M304.3 299.1h1.2M305.5 298.5h1.2" stroke="#000" stroke-width="1.15"/><path d="M306.5 294.3V300.5M305.3 298.5h1.2M306.5 298.5h1.2" stroke="#d4002a" stroke-width="1.15"/><path d="M307.5 294.4V303.5M306.3 298.5h1.2M307.5 298.5h1.2" stroke="#d4002a" stroke-width="1.15"/><path d="M308.5 295.3V301.3M307.3 298.5h1.2M308.5 299.5h1.2" stroke="#d4002a" stroke-width="1.15"/><path d="M309.5 294.7V302.2M308.3 299.5h1.2M309.5 297.1h1.2" stroke="#000" stroke-width="1.15"/><path d="M310.5 292.9V300.3M309.3 297.1h1.2M310.5 298.0h1.2" stroke="#d4002a" stroke-width="1.15"/><path d="M311.5 294.6V300.4M310.3 298.0h1.2M311.5 296.8h1.2" stroke="#000" stroke-width="1.15"/><path d="M312.5 292.8V303.9M311.3 296.8h1.2M312.5 299.4h1.2" stroke="#d4002a" stroke-width="1.15"/><path d="M313.5 296.5V308.0M312.3 299.4h1.2M313.5 304.0h1.2" stroke="#d4002a" stroke-width="1.15"/><path d="M314.5 299.2V311.2M313.3 304.0h1.2M314.5 307.5h1.2" stroke="#d4002a" stroke-width="1.15"/><path d="M315.5 299.9V310.2M314.3 307.5h1.2M315.5 302.3h1.2" stroke="#000" stroke-width="1.15"/><path d="M316.5 291.0V306.3M315.3 302.3h1.2M316.5 296.0h1.2" stroke="#000" stroke-width="1.15"/><path d="M317.5 292.7V299.9M316.3 296.0h1.2M317.5 295.2h1.2" stroke="#000" stroke-width="1.15"/><path d="M318.5 292.8V300.4M317.3 295.2h1.2M318.5 294.7h1.2" stroke="#000" stroke-width="1.15"/><path d="M319.5 291.5V304.6M318.3 294.7h1.2M319.5 301.1h1.2" stroke="#d4002a" stroke-width="1.15"/><path d="M320.5 297.6V303.6M319.3 301.1h1.2M320.5 301.8h1.2" stroke="#d4002a" stroke-width="1.15"/><path d="M321.5 295.9V304.5M320.3 301.8h1.2M321.5 299.7h1.2" stroke="#000" stroke-width="1.15"/><path d="M322.5 296.1V304.2M321.3 299.7h1.2M322.5 298.6h1.2" stroke="#000" stroke-width="1.15"/><path d="M323.5 292.0V301.2M322.3 298.6h1.2M323.5 293.9h1.2" stroke="#000" stroke-width="1.15"/><path d="M324.5 280.1V296.4M323.3 293.9h1.2M324.5 284.4h1.2" stroke="#000" stroke-width="1.15"/><path d="M325.5 276.8V288.0M324.3 284.4h1.2M325.5 279.4h1.2" stroke="#000" stroke-width="1.15"/><path d="M326.5 274.0V284.2M325.3 279.4h1.2M326.5 276.3h1.2" stroke="#000" stroke-width="1.15"/><path d="M327.5 269.1V278.0M326.3 276.3h1.2M327.5 274.2h1.2" stroke="#000" stroke-width="1.15"/><path d="M328.5 268.8V278.6M327.3 274.2h1.2M328.5 272.0h1.2" stroke="#000" stroke-width="1.15"/><path d="M329.5 265.5V277.0M328.3 272.0h1.2M329.5 268.5h1.2" stroke="#000" stroke-width="1.15"/><path d="M330.5 261.6V271.7M329.3 268.5h1.2M330.5 266.6h1.2" stroke="#000" stroke-width="1.15"/><path d="M331.5 258.2V272.3M330.3 266.6h1.2M331.5 263.4h1.2" stroke="#000" stroke-width="1.15"/><path d="M332.5 256.2V269.2M331.3 263.4h1.2M332.5 260.4h1.2" stroke="#000" stroke-width="1.15"/><path d="M333.5 254.0V271.1M332.3 260.4h1.2M333.5 266.1h1.2" stroke="#d4002a" stroke-width="1.15"/><path d="M334.5 260.2V272.9M333.3 266.1h1.2M334.5 265.1h1.2" stroke="#000" stroke-width="1.15"/><path d="M335.5 260.0V270.2M334.3 265.1h1.2M335.5 265.1h1.2" stroke="#000" stroke-width="1.15"/><path d="M336.5 251.8V268.3M335.3 265.1h1.2M336.5 259.1h1.2" stroke="#000" stroke-width="1.15"/><path d="M337.5 252.7V263.8M336.3 259.1h1.2M337.5 260.6h1.2" stroke="#d4002a" stroke-width="1.15"/><path d="M338.5 255.1V268.3M337.3 260.6h1.2M338.5 264.8h1.2" stroke="#d4002a" stroke-width="1.15"/><path d="M339.5 255.9V271.2M338.3 264.8h1.2M339.5 260.5h1.2" stroke="#000" stroke-width="1.15"/><path d="M340.5 254.1V267.1M339.3 260.5h1.2M340.5 260.6h1.2" stroke="#d4002a" stroke-width="1.15"/><path d="M341.5 249.6V265.5M340.3 260.6h1.2M341.5 253.2h1.2" stroke="#000" stroke-width="1.15"/><path d="M342.5 246.3V258.5M341.3 253.2h1.2M342.5 249.7h1.2" stroke="#000" stroke-width="1.15"/><path d="M343.5 240.1V252.2M342.3 249.7h1.2M343.5 245.0h1.2" stroke="#000" stroke-width="1.15"/><path d="M344.5 236.4V251.1M343.3 245.0h1.2M344.5 241.9h1.2" stroke="#000" stroke-width="1.15"/><path d="M345.5 236.2V248.8M344.3 241.9h1.2M345.5 241.6h1.2" stroke="#000" stroke-width="1.15"/><path d="M346.5 231.3V244.7M345.3 241.6h1.2M346.5 234.6h1.2" stroke="#000" stroke-width="1.15"/><path d="M347.5 232.2V240.2M346.3 234.6h1.2M347.5 235.3h1.2" stroke="#d4002a" stroke-width="1.15"/><path d="M348.5 221.9V239.9M347.3 235.3h1.2M348.5 226.5h1.2" stroke="#000" stroke-width="1.15"/><path d="M349.5 215.0V233.0M348.3 226.5h1.2M349.5 225.0h1.2" stroke="#000" stroke-width="1.15"/><path d="M350.5 222.3V239.1M349.3 225.0h1.2M350.5 232.0h1.2" stroke="#d4002a" stroke-width="1.15"/><path d="M351.5 226.2V237.2M350.3 232.0h1.2M351.5 231.5h1.2" stroke="#000" stroke-width="1.15"/><path d="M352.5 225.0V237.4M351.3 231.5h1.2M352.5 233.9h1.2" stroke="#d4002a" stroke-width="1.15"/><path d="M353.5 230.8V244.2M352.3 233.9h1.2M353.5 240.2h1.2" stroke="#d4002a" stroke-width="1.15"/><path d="M354.5 237.7V249.7M353.3 240.2h1.2M354.5 245.7h1.2" stroke="#d4002a" stroke-width="1.15"/><path d="M355.5 234.2V250.8M354.3 245.7h1.2M355.5 239.8h1.2" stroke="#000" stroke-width="1.15"/><path d="M356.5 236.1V248.1M355.3 239.8h1.2M356.5 242.7h1.2" stroke="#d4002a" stroke-width="1.15"/><path d="M357.5 239.9V255.2M356.3 242.7h1.2M357.5 248.5h1.2" stroke="#d4002a" stroke-width="1.15"/><path d="M358.5 245.4V253.1M357.3 248.5h1.2M358.5 249.5h1.2" stroke="#d4002a" stroke-width="1.15"/><path d="M359.5 242.2V255.4M358.3 249.5h1.2M359.5 245.3h1.2" stroke="#000" stroke-width="1.15"/><path d="M360.5 235.0V251.8M359.3 245.3h1.2M360.5 241.7h1.2" stroke="#000" stroke-width="1.15"/><path d="M361.5 236.8V246.2M360.3 241.7h1.2M361.5 239.4h1.2" stroke="#000" stroke-width="1.15"/><path d="M362.5 230.5V242.8M361.3 239.4h1.2M362.5 234.7h1.2" stroke="#000" stroke-width="1.15"/><path d="M363.5 226.8V237.2M362.3 234.7h1.2M363.5 234.3h1.2" stroke="#000" stroke-width="1.15"/><path d="M363.5 228.8V240.6M362.3 234.3h1.2M363.5 233.7h1.2" stroke="#000" stroke-width="1.15"/><path d="M364.5 223.3V236.7M363.3 233.7h1.2M364.5 230.8h1.2" stroke="#000" stroke-width="1.15"/><path d="M365.5 224.0V238.2M364.3 230.8h1.2M365.5 232.0h1.2" stroke="#d4002a" stroke-width="1.15"/><path d="M366.5 229.5V239.3M365.3 232.0h1.2M366.5 235.7h1.2" stroke="#d4002a" stroke-width="1.15"/><path d="M367.5 228.7V239.9M366.3 235.7h1.2M367.5 236.8h1.2" stroke="#d4002a" stroke-width="1.15"/><path d="M368.5 232.4V252.1M367.3 236.8h1.2M368.5 248.2h1.2" stroke="#d4002a" stroke-width="1.15"/><path d="M369.5 243.7V253.2M368.3 248.2h1.2M369.5 250.5h1.2" stroke="#d4002a" stroke-width="1.15"/><path d="M370.5 248.0V260.8M369.3 250.5h1.2M370.5 253.2h1.2" stroke="#d4002a" stroke-width="1.15"/><path d="M371.5 246.9V262.9M370.3 253.2h1.2M371.5 256.7h1.2" stroke="#d4002a" stroke-width="1.15"/><path d="M372.5 253.2V262.6M371.3 256.7h1.2M372.5 259.0h1.2" stroke="#d4002a" stroke-width="1.15"/><path d="M373.5 253.8V262.9M372.3 259.0h1.2M373.5 259.3h1.2" stroke="#d4002a" stroke-width="1.15"/><path d="M374.5 254.6V269.2M373.3 259.3h1.2M374.5 261.9h1.2" stroke="#d4002a" stroke-width="1.15"/><path d="M375.5 257.7V267.2M374.3 261.9h1.2M375.5 263.1h1.2" stroke="#d4002a" stroke-width="1.15"/><path d="M376.5 244.0V268.6M375.3 263.1h1.2M376.5 251.5h1.2" stroke="#000" stroke-width="1.15"/><path d="M377.5 236.0V256.0M376.3 251.5h1.2M377.5 249.4h1.2" stroke="#000" stroke-width="1.15"/><path d="M378.5 243.7V264.6M377.3 249.4h1.2M378.5 262.0h1.2" stroke="#d4002a" stroke-width="1.15"/><path d="M379.5 257.9V277.8M378.3 262.0h1.2M379.5 271.9h1.2" stroke="#d4002a" stroke-width="1.15"/><path d="M380.5 265.0V284.3M379.3 271.9h1.2M380.5 278.8h1.2" stroke="#d4002a" stroke-width="1.15"/><path d="M381.5 271.8V289.7M380.3 278.8h1.2M381.5 284.9h1.2" stroke="#d4002a" stroke-width="1.15"/><path d="M382.5 275.5V292.0M381.3 284.9h1.2M382.5 279.9h1.2" stroke="#000" stroke-width="1.15"/><path d="M383.5 269.8V286.3M382.3 279.9h1.2M383.5 274.1h1.2" stroke="#000" stroke-width="1.15"/><path d="M384.5 268.7V278.2M383.3 274.1h1.2M384.5 272.1h1.2" stroke="#000" stroke-width="1.15"/><path d="M385.5 266.9V277.3M384.3 272.1h1.2M385.5 270.1h1.2" stroke="#000" stroke-width="1.15"/><path d="M386.5 267.0V274.8M385.3 270.1h1.2M386.5 271.5h1.2" stroke="#d4002a" stroke-width="1.15"/><path d="M387.5 266.1V276.2M386.3 271.5h1.2M387.5 269.5h1.2" stroke="#000" stroke-width="1.15"/><path d="M388.5 261.6V274.2M387.3 269.5h1.2M388.5 265.5h1.2" stroke="#000" stroke-width="1.15"/><path d="M389.5 256.0V271.4M388.3 265.5h1.2M389.5 263.5h1.2" stroke="#000" stroke-width="1.15"/><path d="M390.5 252.8V266.9M389.3 263.5h1.2M390.5 259.6h1.2" stroke="#000" stroke-width="1.15"/><path d="M391.5 252.3V262.3M390.3 259.6h1.2M391.5 256.6h1.2" stroke="#000" stroke-width="1.15"/><path d="M392.5 248.5V260.8M391.3 256.6h1.2M392.5 254.5h1.2" stroke="#000" stroke-width="1.15"/><path d="M393.5 244.0V256.9M392.3 254.5h1.2M393.5 247.8h1.2" stroke="#000" stroke-width="1.15"/><path d="M394.5 236.8V251.4M393.3 247.8h1.2M394.5 240.0h1.2" stroke="#000" stroke-width="1.15"/><path d="M395.5 229.0V247.2M394.3 240.0h1.2M395.5 233.3h1.2" stroke="#000" stroke-width="1.15"/><path d="M396.5 227.3V237.4M395.3 233.3h1.2M396.5 233.7h1.2" stroke="#d4002a" stroke-width="1.15"/><path d="M397.5 220.7V236.8M396.3 233.7h1.2M397.5 232.2h1.2" stroke="#000" stroke-width="1.15"/><path d="M398.5 224.9V238.6M397.3 232.2h1.2M398.5 234.4h1.2" stroke="#d4002a" stroke-width="1.15"/><path d="M399.5 228.1V244.2M398.3 234.4h1.2M399.5 238.1h1.2" stroke="#d4002a" stroke-width="1.15"/><path d="M400.5 231.0V244.1M399.3 238.1h1.2M400.5 241.7h1.2" stroke="#d4002a" stroke-width="1.15"/><path d="M401.5 237.7V246.1M400.3 241.7h1.2M401.5 241.8h1.2" stroke="#d4002a" stroke-width="1.15"/><path d="M402.5 239.0V250.7M401.3 241.8h1.2M402.5 243.8h1.2" stroke="#d4002a" stroke-width="1.15"/><path d="M403.5 236.0V250.1M402.3 243.8h1.2M403.5 240.0h1.2" stroke="#000" stroke-width="1.15"/><path d="M404.5 234.9V243.8M403.3 240.0h1.2M404.5 241.2h1.2" stroke="#d4002a" stroke-width="1.15"/><path d="M405.5 236.4V249.0M404.3 241.2h1.2M405.5 240.8h1.2" stroke="#000" stroke-width="1.15"/><path d="M406.5 238.3V245.3M405.3 240.8h1.2M406.5 242.2h1.2" stroke="#d4002a" stroke-width="1.15"/><path d="M407.5 232.0V244.7M406.3 242.2h1.2M407.5 237.4h1.2" stroke="#000" stroke-width="1.15"/><path d="M408.5 231.1V241.9M407.3 237.4h1.2M408.5 235.1h1.2" stroke="#000" stroke-width="1.15"/><path d="M409.5 229.0V238.1M408.3 235.1h1.2M409.5 234.2h1.2" stroke="#000" stroke-width="1.15"/><path d="M410.5 228.1V239.2M409.3 234.2h1.2M410.5 235.5h1.2" stroke="#d4002a" stroke-width="1.15"/><path d="M411.5 225.0V241.4M410.3 235.5h1.2M411.5 229.4h1.2" stroke="#000" stroke-width="1.15"/><path d="M412.5 224.6V232.8M411.3 229.4h1.2M412.5 227.7h1.2" stroke="#000" stroke-width="1.15"/><path d="M413.5 223.9V239.0M412.3 227.7h1.2M413.5 232.9h1.2" stroke="#d4002a" stroke-width="1.15"/><path d="M414.5 225.8V237.3M413.3 232.9h1.2M414.5 230.2h1.2" stroke="#000" stroke-width="1.15"/><path d="M415.5 223.3V237.8M414.3 230.2h1.2M415.5 234.3h1.2" stroke="#d4002a" stroke-width="1.15"/><path d="M416.5 230.0V238.4M415.3 234.3h1.2M416.5 233.8h1.2" stroke="#000" stroke-width="1.15"/><path d="M417.5 230.3V236.3M416.3 233.8h1.2M417.5 233.7h1.2" stroke="#000" stroke-width="1.15"/><path d="M418.5 225.1V239.4M417.3 233.7h1.2M418.5 227.5h1.2" stroke="#000" stroke-width="1.15"/><path d="M419.5 222.2V238.2M418.3 227.5h1.2M419.5 231.7h1.2" stroke="#d4002a" stroke-width="1.15"/><path d="M420.5 222.1V235.5M419.3 231.7h1.2M420.5 229.6h1.2" stroke="#000" stroke-width="1.15"/><path d="M421.5 220.5V236.8M420.3 229.6h1.2M421.5 226.4h1.2" stroke="#000" stroke-width="1.15"/><path d="M422.5 223.0V239.5M421.3 226.4h1.2M422.5 233.5h1.2" stroke="#d4002a" stroke-width="1.15"/><path d="M423.5 226.6V240.9M422.3 233.5h1.2M423.5 232.5h1.2" stroke="#000" stroke-width="1.15"/><path d="M423.5 225.6V243.7M422.3 232.5h1.2M423.5 240.2h1.2" stroke="#d4002a" stroke-width="1.15"/><path d="M424.5 228.3V243.0M423.3 240.2h1.2M424.5 233.9h1.2" stroke="#000" stroke-width="1.15"/><path d="M425.5 222.4V238.3M424.3 233.9h1.2M425.5 226.9h1.2" stroke="#000" stroke-width="1.15"/><path d="M426.5 221.1V231.2M425.3 226.9h1.2M426.5 223.7h1.2" stroke="#000" stroke-width="1.15"/><path d="M427.5 219.6V230.7M426.3 223.7h1.2M427.5 225.8h1.2" stroke="#d4002a" stroke-width="1.15"/><path d="M428.5 217.1V228.9M427.3 225.8h1.2M428.5 220.9h1.2" stroke="#000" stroke-width="1.15"/><path d="M429.5 214.5V225.7M428.3 220.9h1.2M429.5 218.9h1.2" stroke="#000" stroke-width="1.15"/><path d="M430.5 213.9V224.7M429.3 218.9h1.2M430.5 217.1h1.2" stroke="#000" stroke-width="1.15"/><path d="M431.5 206.9V219.9M430.3 217.1h1.2M431.5 210.4h1.2" stroke="#000" stroke-width="1.15"/><path d="M432.5 203.5V215.0M431.3 210.4h1.2M432.5 207.6h1.2" stroke="#000" stroke-width="1.15"/><path d="M433.5 199.3V213.0M432.3 207.6h1.2M433.5 202.4h1.2" stroke="#000" stroke-width="1.15"/><path d="M434.5 189.5V207.7M433.3 202.4h1.2M434.5 195.5h1.2" stroke="#000" stroke-width="1.15"/><path d="M435.5 189.5V199.3M434.3 195.5h1.2M435.5 196.9h1.2" stroke="#d4002a" stroke-width="1.15"/><path d="M436.5 189.7V201.1M435.3 196.9h1.2M436.5 194.1h1.2" stroke="#000" stroke-width="1.15"/><path d="M437.5 181.2V198.5M436.3 194.1h1.2M437.5 190.2h1.2" stroke="#000" stroke-width="1.15"/><path d="M438.5 187.2V195.2M437.3 190.2h1.2M438.5 189.8h1.2" stroke="#000" stroke-width="1.15"/><path d="M439.5 182.0V194.6M438.3 189.8h1.2M439.5 187.4h1.2" stroke="#000" stroke-width="1.15"/><path d="M440.5 184.4V197.8M439.3 187.4h1.2M440.5 195.1h1.2" stroke="#d4002a" stroke-width="1.15"/><path d="M441.5 193.3V201.1M440.3 195.1h1.2M441.5 198.0h1.2" stroke="#d4002a" stroke-width="1.15"/><path d="M442.5 190.9V202.0M441.3 198.0h1.2M442.5 196.1h1.2" stroke="#000" stroke-width="1.15"/><path d="M443.5 193.4V203.9M442.3 196.1h1.2M443.5 199.6h1.2" stroke="#d4002a" stroke-width="1.15"/><path d="M444.5 196.1V203.2M443.3 199.6h1.2M444.5 198.5h1.2" stroke="#000" stroke-width="1.15"/><path d="M445.5 194.4V207.7M444.3 198.5h1.2M445.5 202.1h1.2" stroke="#d4002a" stroke-width="1.15"/><path d="M446.5 199.0V213.0M445.3 202.1h1.2M446.5 204.5h1.2" stroke="#d4002a" stroke-width="1.15"/><path d="M447.5 199.0V209.9M446.3 204.5h1.2M447.5 205.1h1.2" stroke="#d4002a" stroke-width="1.15"/><path d="M448.5 200.5V209.3M447.3 205.1h1.2M448.5 204.8h1.2" stroke="#000" stroke-width="1.15"/><path d="M449.5 200.8V208.1M448.3 204.8h1.2M449.5 204.1h1.2" stroke="#000" stroke-width="1.15"/><path d="M450.5 197.0V209.1M449.3 204.1h1.2M450.5 199.8h1.2" stroke="#000" stroke-width="1.15"/><path d="M451.5 193.1V203.0M450.3 199.8h1.2M451.5 198.4h1.2" stroke="#000" stroke-width="1.15"/><path d="M452.5 191.2V200.2M451.3 198.4h1.2M452.5 196.6h1.2" stroke="#000" stroke-width="1.15"/><path d="M453.5 193.3V200.3M452.3 196.6h1.2M453.5 195.5h1.2" stroke="#000" stroke-width="1.15"/><path d="M454.5 192.5V198.7M453.3 195.5h1.2M454.5 195.4h1.2" stroke="#000" stroke-width="1.15"/><path d="M455.5 189.8V198.2M454.3 195.4h1.2M455.5 195.8h1.2" stroke="#d4002a" stroke-width="1.15"/><path d="M456.5 193.4V200.9M455.3 195.8h1.2M456.5 198.3h1.2" stroke="#d4002a" stroke-width="1.15"/><path d="M457.5 184.7V201.0M456.3 198.3h1.2M457.5 189.2h1.2" stroke="#000" stroke-width="1.15"/><path d="M458.5 187.5V194.8M457.3 189.2h1.2M458.5 190.9h1.2" stroke="#d4002a" stroke-width="1.15"/><path d="M459.5 186.7V193.5M458.3 190.9h1.2M459.5 190.0h1.2" stroke="#000" stroke-width="1.15"/><path d="M460.5 186.3V198.4M459.3 190.0h1.2M460.5 194.1h1.2" stroke="#d4002a" stroke-width="1.15"/><path d="M461.5 188.5V198.3M460.3 194.1h1.2M461.5 192.4h1.2" stroke="#000" stroke-width="1.15"/><path d="M462.5 180.4V197.4M461.3 192.4h1.2M462.5 184.4h1.2" stroke="#000" stroke-width="1.15"/><path d="M463.5 177.9V187.4M462.3 184.4h1.2M463.5 184.1h1.2" stroke="#000" stroke-width="1.15"/><path d="M464.5 179.6V189.4M463.3 184.1h1.2M464.5 182.7h1.2" stroke="#000" stroke-width="1.15"/><path d="M465.5 179.7V191.7M464.3 182.7h1.2M465.5 187.1h1.2" stroke="#d4002a" stroke-width="1.15"/><path d="M466.5 180.8V191.6M465.3 187.1h1.2M466.5 185.3h1.2" stroke="#000" stroke-width="1.15"/><path d="M467.5 179.8V192.0M466.3 185.3h1.2M467.5 187.0h1.2" stroke="#d4002a" stroke-width="1.15"/><path d="M468.5 184.6V191.6M467.3 187.0h1.2M468.5 187.4h1.2" stroke="#d4002a" stroke-width="1.15"/><path d="M469.5 183.8V191.9M468.3 187.4h1.2M469.5 187.9h1.2" stroke="#d4002a" stroke-width="1.15"/><path d="M470.5 184.0V193.0M469.3 187.9h1.2M470.5 187.1h1.2" stroke="#000" stroke-width="1.15"/><path d="M471.5 176.1V191.0M470.3 187.1h1.2M471.5 180.8h1.2" stroke="#000" stroke-width="1.15"/><path d="M472.5 178.2V183.7M471.3 180.8h1.2M472.5 181.0h1.2" stroke="#d4002a" stroke-width="1.15"/><path d="M473.5 177.8V183.4M472.3 181.0h1.2M473.5 180.8h1.2" stroke="#000" stroke-width="1.15"/><path d="M474.5 172.8V183.0M473.3 180.8h1.2M474.5 176.6h1.2" stroke="#000" stroke-width="1.15"/><path d="M475.5 168.8V178.6M474.3 176.6h1.2M475.5 170.8h1.2" stroke="#000" stroke-width="1.15"/><path d="M476.5 168.7V175.9M475.3 170.8h1.2M476.5 171.4h1.2" stroke="#d4002a" stroke-width="1.15"/><path d="M477.5 169.2V175.8M476.3 171.4h1.2M477.5 172.2h1.2" stroke="#d4002a" stroke-width="1.15"/><path d="M478.5 165.8V175.9M477.3 172.2h1.2M478.5 170.6h1.2" stroke="#000" stroke-width="1.15"/><path d="M479.5 167.3V175.7M478.3 170.6h1.2M479.5 169.6h1.2" stroke="#000" stroke-width="1.15"/><path d="M480.5 164.5V174.1M479.3 169.6h1.2M480.5 172.2h1.2" stroke="#d4002a" stroke-width="1.15"/><path d="M481.5 164.4V175.9M480.3 172.2h1.2M481.5 167.1h1.2" stroke="#000" stroke-width="1.15"/><path d="M482.5 159.4V170.4M481.3 167.1h1.2M482.5 164.3h1.2" stroke="#000" stroke-width="1.15"/><path d="M482.5 154.1V167.0M481.3 164.3h1.2M482.5 158.6h1.2" stroke="#000" stroke-width="1.15"/><path d="M483.5 153.0V161.6M482.3 158.6h1.2M483.5 157.6h1.2" stroke="#000" stroke-width="1.15"/><path d="M484.5 153.0V162.3M483.3 157.6h1.2M484.5 156.0h1.2" stroke="#000" stroke-width="1.15"/><path d="M485.5 153.8V161.0M484.3 156.0h1.2M485.5 155.8h1.2" stroke="#000" stroke-width="1.15"/><path d="M486.5 150.5V159.2M485.3 155.8h1.2M486.5 154.5h1.2" stroke="#000" stroke-width="1.15"/><path d="M487.5 149.9V164.7M486.3 154.5h1.2M487.5 160.5h1.2" stroke="#d4002a" stroke-width="1.15"/><path d="M488.5 153.8V165.4M487.3 160.5h1.2M488.5 158.9h1.2" stroke="#000" stroke-width="1.15"/><path d="M489.5 155.9V162.1M488.3 158.9h1.2M489.5 158.1h1.2" stroke="#000" stroke-width="1.15"/><path d="M490.5 153.7V166.7M489.3 158.1h1.2M490.5 164.1h1.2" stroke="#d4002a" stroke-width="1.15"/><path d="M491.5 160.0V165.9M490.3 164.1h1.2M491.5 162.5h1.2" stroke="#000" stroke-width="1.15"/><path d="M492.5 153.9V167.9M491.3 162.5h1.2M492.5 157.9h1.2" stroke="#000" stroke-width="1.15"/><path d="M493.5 152.4V163.2M492.3 157.9h1.2M493.5 161.0h1.2" stroke="#d4002a" stroke-width="1.15"/><path d="M494.5 155.4V164.4M493.3 161.0h1.2M494.5 159.8h1.2" stroke="#000" stroke-width="1.15"/><path d="M495.5 155.6V167.0M494.3 159.8h1.2M495.5 165.0h1.2" stroke="#d4002a" stroke-width="1.15"/><path d="M496.5 154.4V170.7M495.3 165.0h1.2M496.5 159.8h1.2" stroke="#000" stroke-width="1.15"/><path d="M497.5 156.0V164.4M496.3 159.8h1.2M497.5 157.9h1.2" stroke="#000" stroke-width="1.15"/><path d="M498.5 151.6V159.8M497.3 157.9h1.2M498.5 153.8h1.2" stroke="#000" stroke-width="1.15"/><path d="M499.5 150.9V159.7M498.3 153.8h1.2M499.5 155.1h1.2" stroke="#d4002a" stroke-width="1.15"/><path d="M500.5 146.9V157.3M499.3 155.1h1.2M500.5 152.5h1.2" stroke="#000" stroke-width="1.15"/><path d="M501.5 149.5V154.9M500.3 152.5h1.2M501.5 153.1h1.2" stroke="#d4002a" stroke-width="1.15"/><path d="M502.5 148.5V156.7M501.3 153.1h1.2M502.5 152.3h1.2" stroke="#000" stroke-width="1.15"/><path d="M503.5 147.7V155.3M502.3 152.3h1.2M503.5 150.9h1.2" stroke="#000" stroke-width="1.15"/><path d="M504.5 146.0V158.6M503.3 150.9h1.2M504.5 153.5h1.2" stroke="#d4002a" stroke-width="1.15"/><path d="M505.5 150.7V157.8M504.3 153.5h1.2M505.5 154.5h1.2" stroke="#d4002a" stroke-width="1.15"/><path d="M506.5 148.3V159.3M505.3 154.5h1.2M506.5 152.5h1.2" stroke="#000" stroke-width="1.15"/><path d="M507.5 142.5V155.7M506.3 152.5h1.2M507.5 148.1h1.2" stroke="#000" stroke-width="1.15"/><path d="M508.5 140.1V152.0M507.3 148.1h1.2M508.5 144.6h1.2" stroke="#000" stroke-width="1.15"/><path d="M509.5 142.4V147.5M508.3 144.6h1.2M509.5 145.2h1.2" stroke="#d4002a" stroke-width="1.15"/><polyline points="18.0,469.0 19.8,469.2 22.2,469.5 25.0,469.9 28.2,470.3 31.5,470.7 34.8,471.1 38.0,471.3 40.8,471.4 43.3,471.4 45.8,471.2 48.1,471.0 50.4,470.7 52.7,470.4 55.0,470.0 57.4,469.6 60.0,469.3 62.7,469.0 65.5,468.7 68.4,468.4 71.4,468.0 74.4,467.7 77.4,467.3 80.4,466.8 83.3,466.3 86.2,465.7 89.1,465.1 92.0,464.4 94.9,463.7 97.8,462.9 100.7,462.1 103.6,461.3 106.5,460.5 109.4,459.7 112.3,458.9 115.2,458.0 118.2,457.1 121.1,456.3 124.0,455.4 126.9,454.4 129.8,453.5 132.8,452.5 135.8,451.5 138.9,450.4 142.0,449.4 145.0,448.3 147.9,447.2 150.6,446.2 153.0,445.3 155.1,444.4 156.8,443.7 158.3,443.0 159.7,442.3 161.1,441.6 162.6,440.8 164.3,440.0 166.3,439.0 168.6,437.9 171.2,436.7 173.9,435.4 176.7,434.0 179.5,432.6 182.4,431.3 185.3,429.9 188.0,428.6 190.7,427.3 193.5,426.0 196.3,424.6 199.1,423.3 201.8,422.0 204.4,420.8 206.8,419.8 209.0,418.8 211.0,418.0 212.8,417.4 214.4,416.8 216.0,416.4 217.4,415.9 218.8,415.5 220.1,415.1 221.4,414.6 222.6,414.1 223.5,413.7 224.4,413.3 225.2,412.9 226.0,412.5 227.1,411.9 228.4,411.2 230.0,410.3 232.0,409.2 234.4,407.9 237.0,406.4 239.7,404.9 242.6,403.2 245.5,401.6 248.3,399.8 251.0,398.1 253.7,396.3 256.4,394.3 259.1,392.3 261.8,390.3 264.5,388.2 267.1,386.3 269.5,384.4 271.8,382.8 273.9,381.4 275.8,380.1 277.5,379.0 279.2,377.9 280.8,376.9 282.4,375.9 284.1,374.8 285.8,373.7 287.6,372.5 289.5,371.2 291.4,369.9 293.3,368.6 295.2,367.3 297.0,366.1 298.6,365.0 300.0,364.0 301.1,363.2 301.9,362.6 302.5,362.1 303.1,361.7 303.7,361.2 304.4,360.7 305.5,360.0 307.0,359.0 309.0,357.8 311.4,356.4 314.1,354.8 317.0,353.1 320.0,351.4 322.8,349.7 325.5,348.0 327.9,346.5 330.0,345.1 331.9,343.8 333.6,342.6 335.3,341.3 336.9,340.1 338.5,338.8 340.1,337.5 341.8,336.0 343.5,334.4 345.3,332.7 347.0,330.9 348.8,329.1 350.5,327.2 352.3,325.4 354.0,323.7 355.8,322.1 357.5,320.6 359.2,319.3 360.8,318.0 362.5,316.7 364.2,315.5 366.0,314.2 367.9,312.9 370.0,311.6 372.3,310.2 374.9,308.8 377.6,307.3 380.5,305.8 383.3,304.4 386.0,302.9 388.6,301.4 390.9,300.0 393.0,298.6 394.9,297.1 396.7,295.7 398.3,294.3 400.0,292.9 401.6,291.5 403.2,290.1 404.9,288.8 406.6,287.5 408.2,286.3 409.8,285.2 411.4,284.0 413.1,282.9 414.8,281.7 416.7,280.4 418.8,279.0 421.0,277.6 423.1,276.2 425.4,274.9 427.8,273.4 430.4,271.9 433.2,270.1 436.4,268.1 440.0,265.8 444.2,263.1 448.9,260.0 454.1,256.6 459.5,253.1 465.0,249.5 470.3,245.9 475.4,242.5 480.0,239.4 484.3,236.4 488.7,233.3 493.0,230.2 497.0,227.3 500.7,224.6 504.0,222.1 506.8,220.1 509.0,218.5" fill="none" stroke="#ff0000" stroke-width="1.2"/><polyline points="18.0,478.4 18.9,478.3 20.1,478.3 21.4,478.2 23.0,478.1 24.7,478.0 26.4,477.8 28.2,477.5 30.0,477.2 31.8,476.8 33.8,476.4 35.8,475.9 37.9,475.4 40.0,474.8 42.0,474.1 44.1,473.2 46.0,472.3 47.8,471.2 49.4,469.9 51.0,468.5 52.5,467.0 54.2,465.4 55.9,463.9 57.8,462.4 60.0,461.0 62.5,459.7 65.3,458.5 68.3,457.4 71.5,456.2 74.6,455.0 77.7,453.8 80.6,452.6 83.3,451.2 85.7,449.7 88.0,448.1 90.3,446.3 92.4,444.6 94.4,442.9 96.3,441.2 98.2,439.7 100.0,438.3 101.7,437.1 103.3,436.0 104.8,435.1 106.3,434.2 107.7,433.4 109.1,432.6 110.5,431.7 112.0,430.9 113.5,430.0 115.0,429.2 116.5,428.4 118.0,427.6 119.5,426.8 121.0,426.0 122.5,425.1 124.0,424.3 125.5,423.4 127.0,422.6 128.5,421.7 129.9,420.9 131.4,420.0 132.9,419.1 134.5,418.1 136.0,417.1 137.6,416.0 139.2,414.7 140.9,413.4 142.6,412.1 144.2,410.8 145.9,409.5 147.5,408.4 149.0,407.5 150.4,406.8 151.7,406.3 152.8,405.9 154.0,405.6 155.2,405.2 156.6,404.9 158.2,404.4 160.0,403.8 162.1,403.0 164.5,402.0 167.1,401.0 169.9,399.9 172.7,398.8 175.5,397.7 178.3,396.7 181.0,395.8 183.7,395.0 186.4,394.3 189.2,393.7 191.9,393.1 194.6,392.5 197.2,392.0 199.7,391.4 202.0,390.9 204.1,390.4 206.0,390.0 207.8,389.6 209.4,389.2 211.1,388.8 212.7,388.4 214.3,388.0 216.0,387.4 217.8,386.8 219.5,386.2 221.3,385.5 223.1,384.8 224.9,384.0 226.6,383.2 228.3,382.2 230.0,381.2 231.7,380.1 233.3,378.8 234.9,377.5 236.5,376.1 238.0,374.6 239.6,373.1 241.1,371.6 242.6,370.0 244.1,368.4 245.5,366.7 246.9,365.0 248.2,363.2 249.6,361.4 250.9,359.6 252.3,357.7 253.7,355.8 255.1,353.8 256.6,351.6 258.0,349.4 259.4,347.2 260.9,345.0 262.3,342.9 263.7,340.8 265.0,339.0 266.3,337.3 267.4,335.8 268.5,334.4 269.6,333.0 270.8,331.7 271.9,330.4 273.2,329.2 274.6,327.9 276.2,326.6 277.9,325.3 279.6,324.0 281.5,322.7 283.3,321.5 285.2,320.3 286.9,319.2 288.6,318.1 290.1,317.1 291.5,316.1 292.8,315.2 294.1,314.3 295.4,313.4 296.7,312.6 298.3,311.9 300.0,311.2 302.0,310.6 304.2,310.1 306.6,309.6 309.1,309.2 311.5,308.8 313.9,308.4 316.1,307.9 318.0,307.4 319.6,306.9 321.0,306.5 322.2,306.2 323.4,305.8 324.5,305.3 325.5,304.6 326.7,303.7 328.0,302.5 329.4,301.0 330.9,299.2 332.4,297.1 334.0,294.9 335.6,292.6 337.1,290.3 338.6,287.9 340.0,285.7 341.3,283.5 342.6,281.1 343.9,278.7 345.1,276.3 346.3,273.9 347.5,271.7 348.8,269.6 350.0,267.7 351.2,266.1 352.5,264.6 353.8,263.3 355.0,262.1 356.2,261.0 357.5,260.0 358.8,258.9 360.0,257.8 361.3,256.7 362.5,255.5 363.8,254.4 365.0,253.3 366.3,252.3 367.5,251.3 368.8,250.5 370.0,249.8 371.3,249.2 372.5,248.8 373.8,248.4 375.1,248.1 376.4,247.9 377.6,247.8 378.7,247.7 379.8,247.6 380.7,247.6 381.3,247.7 381.8,247.8 382.3,248.0 382.9,248.2 383.6,248.4 384.6,248.6 386.0,248.8 387.8,248.9 390.0,249.1 392.4,249.2 395.0,249.4 397.7,249.5 400.3,249.6 402.8,249.6 405.0,249.6 407.0,249.5 408.9,249.5 410.7,249.3 412.5,249.2 414.2,249.0 415.8,248.6 417.4,248.2 419.0,247.7 420.5,247.1 422.0,246.3 423.4,245.5 424.8,244.6 426.1,243.6 427.4,242.5 428.7,241.3 430.0,240.0 431.3,238.5 432.5,236.8 433.6,234.9 434.8,232.9 436.0,231.0 437.2,229.0 438.6,227.2 440.0,225.6 441.6,224.2 443.2,223.0 445.0,221.8 446.8,220.8 448.6,219.7 450.4,218.5 452.2,217.3 454.0,215.8 455.8,214.1 457.5,212.3 459.2,210.3 461.0,208.3 462.8,206.2 464.5,204.2 466.2,202.2 468.0,200.4 469.8,198.7 471.5,197.0 473.2,195.4 475.0,193.9 476.8,192.4 478.5,190.9 480.2,189.4 482.0,187.9 483.8,186.4 485.5,185.0 487.3,183.5 489.1,182.1 490.8,180.7 492.6,179.3 494.3,178.0 496.0,176.7 497.8,175.4 499.6,174.0 501.5,172.7 503.4,171.4 505.1,170.2 506.7,169.1 508.0,168.2 509.0,167.5" fill="none" stroke="#00008b" stroke-width="1.2"/><line x1="15" y1="375.3" x2="602" y2="97.1" stroke="#0000ff" stroke-width="2.6"/><line x1="196.3" y1="305.5" x2="602" y2="65.3" stroke="#0000ff" stroke-width="1.3"/><line x1="14.7" y1="493.1" x2="597" y2="217.1" stroke="#0000ff" stroke-width="2.6"/><line x1="213.8" y1="392.3" x2="602" y2="166.0" stroke="#0000ff" stroke-width="1.3"/><line x1="191.5" y1="333" x2="326" y2="226.5" stroke="#ff1a1a" stroke-width="2.5" stroke-dasharray="5,2.3"/><line x1="212.7" y1="394.4" x2="354" y2="281" stroke="#ff1a1a" stroke-width="2.5" stroke-dasharray="5,2.3"/><line x1="463" y1="180" x2="524" y2="116" stroke="#111" stroke-width="1.2" stroke-dasharray="3,2"/><line x1="468" y1="201" x2="532" y2="132" stroke="#111" stroke-width="1.2" stroke-dasharray="3,2"/><ellipse cx="254.5" cy="285.7" rx="9.6" ry="6.9" fill="none" stroke="#0000ff" stroke-width="2.2"/><ellipse cx="348.5" cy="220.7" rx="10.3" ry="7.7" fill="none" stroke="#0000ff" stroke-width="2.2"/><ellipse cx="437.5" cy="184.4" rx="10.3" ry="7" fill="none" stroke="#0000ff" stroke-width="2.2"/><ellipse cx="464" cy="177.2" rx="9.2" ry="7" fill="none" stroke="#0000ff" stroke-width="2.2"/><path d="M76.5,69.5 H388 V97.5 L505,143 L383,103.5 H76.5 Z" fill="#666"/><path d="M74.5,67.5 H386 V95 L505,142 L381,101.5 H74.5 Z" fill="#fff" stroke="#000" stroke-width="1"/><path d="M386,95 L505,142 L381,101.5" fill="none" stroke="#777" stroke-width="1"/><text x="78" y="80.6" font-size="14.3" font-weight="bold" textLength="284.3" lengthAdjust="spacingAndGlyphs">Gold is right at its strong long-term resistance</text><text x="78" y="97.6" font-size="14.3" font-weight="bold" textLength="294" lengthAdjust="spacingAndGlyphs">level. No major breakout has been seen so far.</text><rect x="365.5" y="457" width="181" height="16" fill="#444"/><rect x="363.5" y="455.5" width="182" height="15.5" fill="#fff" stroke="#000" stroke-width="1"/><line x1="426.5" y1="455.5" x2="426.5" y2="471" stroke="#000"/><text x="366.5" y="467.6" font-size="13.5" font-weight="bold" fill="#ff0000" textLength="57.4" lengthAdjust="spacingAndGlyphs">Sunshine</text><text x="429.3" y="467.6" font-size="13.5" font-weight="bold" fill="#000" textLength="106.5" lengthAdjust="spacingAndGlyphs">Profits.com/FREE</text><rect x="18" y="136" width="157" height="12" fill="#fff"/><rect x="18" y="148" width="82" height="32" fill="#fff"/><text x="32.6" y="146" font-size="10.3" fill="#000" textLength="141.3" lengthAdjust="spacing">$GOLD (Weekly) 1504.60</text><path d="M21,138.5V144.5M20,140h2M24,137.5V145.5M23,139h2M27.5,138V145M26.5,139.5h2.5" stroke="#000" stroke-width="1.6"/><path d="M20.5,177V173M23,177V170.5M25.5,177V172M28,177V170" stroke="#555" stroke-width="1.8"/><line x1="20" y1="153.2" x2="29" y2="153.2" stroke="#00008b" stroke-width="2"/><text x="30.6" y="156.5" font-size="9.5" fill="#00008b" textLength="68.7" lengthAdjust="spacing">MA(50) 1323.75</text><line x1="20" y1="164.2" x2="29" y2="164.2" stroke="#ff0000" stroke-width="2"/><text x="30.6" y="167.5" font-size="9.5" fill="#ff0000" textLength="73.4" lengthAdjust="spacing">MA(200) 1018.13</text><text x="30.6" y="178" font-size="9.5" fill="#444" textLength="62.1" lengthAdjust="spacing">Volume undef</text><rect x="18" y="31" width="95" height="12" fill="#fff"/><path d="M20.5,41 L23,34 L25,37 L27,33.5 L29,41 Z" fill="#6a9a6a" stroke="#000" stroke-width="0.8"/><text x="32.8" y="41" font-size="10.3" fill="#000" textLength="77.8" lengthAdjust="spacing">RSI(14) 73.76</text><text x="17" y="15.3" font-size="13.8" font-weight="bold" textLength="42.8" lengthAdjust="spacingAndGlyphs">$GOLD</text><text x="64" y="15" font-size="11" textLength="170.9" lengthAdjust="spacingAndGlyphs">(Gold - Continuous Contract (EOD))</text><text x="240" y="15" font-size="9" textLength="22.8" lengthAdjust="spacingAndGlyphs">INDX</text><text x="468" y="15" font-size="11" fill="#505050" textLength="89.2" lengthAdjust="spacingAndGlyphs">©StockCharts.com</text><text x="17" y="27.7" font-size="11" textLength="57" lengthAdjust="spacingAndGlyphs">21-Apr-2011</text><text x="143" y="27.7" font-size="11" textLength="27.7" lengthAdjust="spacingAndGlyphs" font-weight="bold">Open</text><text x="175.2" y="27.7" font-size="11" textLength="37.8" lengthAdjust="spacingAndGlyphs">1485.90</text><text x="219.8" y="27.7" font-size="11" textLength="23.2" lengthAdjust="spacingAndGlyphs" font-weight="bold">High</text><text x="247.7" y="27.7" font-size="11" textLength="37.2" lengthAdjust="spacingAndGlyphs">1508.90</text><text x="291.8" y="27.7" font-size="11" textLength="23.3" lengthAdjust="spacingAndGlyphs" font-weight="bold">Low</text><text x="319.9" y="27.7" font-size="11" textLength="36.8" lengthAdjust="spacingAndGlyphs">1477.40</text><text x="363.7" y="27.7" font-size="11" textLength="31" lengthAdjust="spacingAndGlyphs" font-weight="bold">Close</text><text x="399.3" y="27.7" font-size="11" textLength="37.7" lengthAdjust="spacingAndGlyphs">1504.60</text><text x="444" y="27.7" font-size="11" textLength="20.9" lengthAdjust="spacingAndGlyphs" font-weight="bold">Chg</text><text x="468.8" y="27.7" font-size="11" textLength="78.4" lengthAdjust="spacingAndGlyphs">+18.20 (+1.22%)</text><path d="M550.2,26.5 L553.7,22.5 L557.2,26.5 Z" fill="#2e7d32"/><rect x="0.5" y="0.5" width="601" height="501" fill="none" stroke="#360700" stroke-width="1"/></svg></body></html>
